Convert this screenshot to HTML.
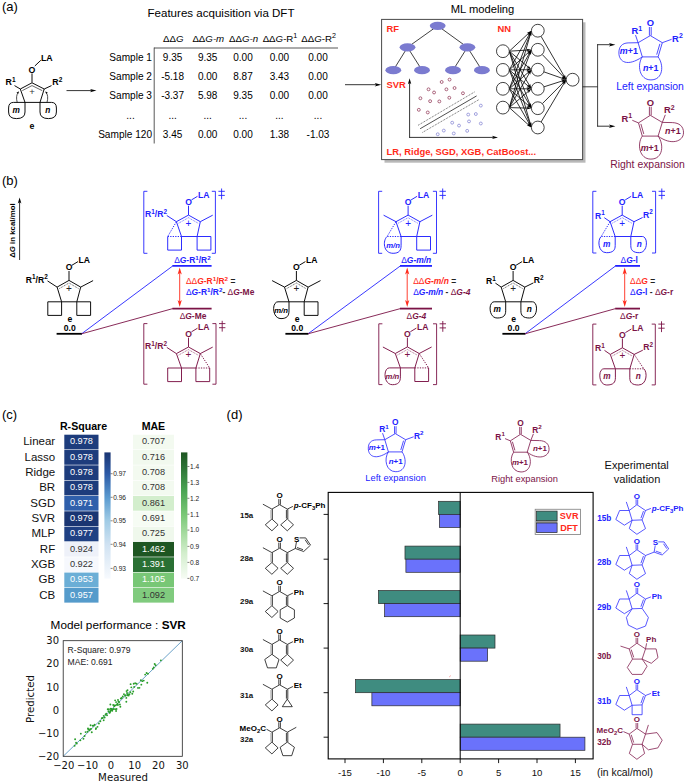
<!DOCTYPE html>
<html><head><meta charset="utf-8"><title>Figure</title>
<style>html,body{margin:0;padding:0;background:#fff}svg{display:block}text{white-space:pre}</style>
</head><body>
<svg width="685" height="783" viewBox="0 0 685 783">
<rect width="685" height="783" fill="#fff"/>
<text x="2" y="10.8" font-family="Liberation Sans, Arial, sans-serif" font-size="13" fill="#000" font-weight="normal" font-style="normal" text-anchor="start" >(a)</text>
<text x="41" y="61.3" font-family="Liberation Sans, Arial, sans-serif" font-size="8.8" fill="#000" font-weight="bold" font-style="normal" text-anchor="start" >LA</text>
<text x="32" y="72.8" font-family="Liberation Sans, Arial, sans-serif" font-size="8.8" fill="#000" font-weight="bold" font-style="normal" text-anchor="middle" >O</text>
<line x1="34.8" y1="66" x2="40.8" y2="60.3" stroke="#000" stroke-width="0.95" />
<line x1="32" y1="73.4" x2="32" y2="82.6" stroke="#000" stroke-width="0.95" />
<polyline points="25,102.4 20.3,89 32,82.8 44.2,89 40,102.4" fill="none" stroke="#000" stroke-width="0.95" stroke-linejoin="round" />
<line x1="25" y1="102.4" x2="40" y2="102.4" stroke="#000" stroke-width="0.95" />
<polyline points="22.3,90.6 32,85.6 42.2,90.6" fill="none" stroke="#000" stroke-width="0.6" stroke-linejoin="round" />
<text x="32" y="95" font-family="Liberation Sans, Arial, sans-serif" font-size="9.5" fill="#333" font-weight="normal" font-style="normal" text-anchor="middle" >+</text>
<text x="5.6" y="85.3" font-family="Liberation Sans, Arial, sans-serif" font-size="8.8" fill="#000" font-weight="bold" font-style="normal" text-anchor="start" ><tspan>R</tspan><tspan dy="-3.34" font-size="6.51">1</tspan></text>
<text x="52.3" y="85.3" font-family="Liberation Sans, Arial, sans-serif" font-size="8.8" fill="#000" font-weight="bold" font-style="normal" text-anchor="start" ><tspan>R</tspan><tspan dy="-3.34" font-size="6.51">2</tspan></text>
<line x1="14.5" y1="85.6" x2="20.3" y2="89" stroke="#000" stroke-width="0.95" />
<line x1="51.5" y1="85.6" x2="44.2" y2="89" stroke="#000" stroke-width="0.95" />
<path d="M25,102.4 H13.5 Q8.6,102.4 8.6,108 V112 Q8.6,118.6 16.5,118.6 Q25,118.6 25,112 Z" fill="none" stroke="#000" stroke-width="0.95" />
<path d="M40,102.4 H51.5 Q56.4,102.4 56.4,108 V112 Q56.4,118.6 48.5,118.6 Q40,118.6 40,112 Z" fill="none" stroke="#000" stroke-width="0.95" />
<text x="16.3" y="112.8" font-family="Liberation Sans, Arial, sans-serif" font-size="8.3" fill="#000" font-weight="bold" font-style="italic" text-anchor="middle" >m</text>
<text x="47.8" y="112.8" font-family="Liberation Sans, Arial, sans-serif" font-size="8.3" fill="#000" font-weight="bold" font-style="italic" text-anchor="middle" >n</text>
<path d="M17.2,102.4 Q15.5,96 18.3,92.2" fill="none" stroke="#000" stroke-width="0.7" />
<polygon points="18.9,91.2 18.08,94.29 17.61,93.04 16.28,93.03" fill="#000" stroke="#000" stroke-width="0" stroke-linejoin="round" />
<path d="M47,102.4 Q48.8,96 46,92.2" fill="none" stroke="#000" stroke-width="0.7" />
<polygon points="45.4,91.2 48.02,93.03 46.69,93.04 46.22,94.29" fill="#000" stroke="#000" stroke-width="0" stroke-linejoin="round" />
<text x="32" y="129.2" font-family="Liberation Sans, Arial, sans-serif" font-size="8.8" fill="#000" font-weight="bold" font-style="normal" text-anchor="middle" >e</text>
<line x1="66.5" y1="90.6" x2="91.95" y2="90.6" stroke="#000" stroke-width="0.8" />
<polygon points="96.5,90.6 90,92.3 91.62,90.6 90,88.9" fill="#000" stroke="#000" stroke-width="0" stroke-linejoin="round" />
<text x="221" y="17.2" font-family="Liberation Sans, Arial, sans-serif" font-size="11.55" fill="#000" font-weight="normal" font-style="normal" text-anchor="middle" >Features acquisition via DFT</text>
<text x="173.2" y="41.6" font-family="Liberation Sans, Arial, sans-serif" font-size="9.7" fill="#000" font-weight="normal" font-style="normal" text-anchor="middle" ><tspan>ΔΔ</tspan><tspan font-style="italic">G</tspan></text>
<text x="208.3" y="41.6" font-family="Liberation Sans, Arial, sans-serif" font-size="9.7" fill="#000" font-weight="normal" font-style="normal" text-anchor="middle" ><tspan>ΔΔ</tspan><tspan font-style="italic">G-m</tspan></text>
<text x="243.6" y="41.6" font-family="Liberation Sans, Arial, sans-serif" font-size="9.7" fill="#000" font-weight="normal" font-style="normal" text-anchor="middle" ><tspan>ΔΔ</tspan><tspan font-style="italic">G-n</tspan></text>
<text x="280" y="41.6" font-family="Liberation Sans, Arial, sans-serif" font-size="9.7" fill="#000" font-weight="normal" font-style="normal" text-anchor="middle" ><tspan>ΔΔ</tspan><tspan font-style="italic">G</tspan><tspan>-R</tspan><tspan dy="-3.69" font-size="7.18">1</tspan></text>
<text x="318.6" y="41.6" font-family="Liberation Sans, Arial, sans-serif" font-size="9.7" fill="#000" font-weight="normal" font-style="normal" text-anchor="middle" ><tspan>ΔΔ</tspan><tspan font-style="italic">G</tspan><tspan>-R</tspan><tspan dy="-3.69" font-size="7.18">2</tspan></text>
<line x1="154" y1="48" x2="338" y2="48" stroke="#444" stroke-width="0.9" />
<line x1="154.2" y1="47.6" x2="154.2" y2="143.5" stroke="#444" stroke-width="0.9" />
<text x="152" y="60.6" font-family="Liberation Sans, Arial, sans-serif" font-size="10.1" fill="#000" font-weight="normal" font-style="normal" text-anchor="end" >Sample 1</text>
<text x="172.6" y="60.6" font-family="Liberation Sans, Arial, sans-serif" font-size="10" fill="#000" font-weight="normal" font-style="normal" text-anchor="middle" >9.35</text>
<text x="207.7" y="60.6" font-family="Liberation Sans, Arial, sans-serif" font-size="10" fill="#000" font-weight="normal" font-style="normal" text-anchor="middle" >9.35</text>
<text x="243" y="60.6" font-family="Liberation Sans, Arial, sans-serif" font-size="10" fill="#000" font-weight="normal" font-style="normal" text-anchor="middle" >0.00</text>
<text x="279.4" y="60.6" font-family="Liberation Sans, Arial, sans-serif" font-size="10" fill="#000" font-weight="normal" font-style="normal" text-anchor="middle" >0.00</text>
<text x="318" y="60.6" font-family="Liberation Sans, Arial, sans-serif" font-size="10" fill="#000" font-weight="normal" font-style="normal" text-anchor="middle" >0.00</text>
<text x="152" y="80.2" font-family="Liberation Sans, Arial, sans-serif" font-size="10.1" fill="#000" font-weight="normal" font-style="normal" text-anchor="end" >Sample 2</text>
<text x="172.6" y="80.2" font-family="Liberation Sans, Arial, sans-serif" font-size="10" fill="#000" font-weight="normal" font-style="normal" text-anchor="middle" >-5.18</text>
<text x="207.7" y="80.2" font-family="Liberation Sans, Arial, sans-serif" font-size="10" fill="#000" font-weight="normal" font-style="normal" text-anchor="middle" >0.00</text>
<text x="243" y="80.2" font-family="Liberation Sans, Arial, sans-serif" font-size="10" fill="#000" font-weight="normal" font-style="normal" text-anchor="middle" >8.87</text>
<text x="279.4" y="80.2" font-family="Liberation Sans, Arial, sans-serif" font-size="10" fill="#000" font-weight="normal" font-style="normal" text-anchor="middle" >3.43</text>
<text x="318" y="80.2" font-family="Liberation Sans, Arial, sans-serif" font-size="10" fill="#000" font-weight="normal" font-style="normal" text-anchor="middle" >0.00</text>
<text x="152" y="98.8" font-family="Liberation Sans, Arial, sans-serif" font-size="10.1" fill="#000" font-weight="normal" font-style="normal" text-anchor="end" >Sample 3</text>
<text x="172.6" y="98.8" font-family="Liberation Sans, Arial, sans-serif" font-size="10" fill="#000" font-weight="normal" font-style="normal" text-anchor="middle" >-3.37</text>
<text x="207.7" y="98.8" font-family="Liberation Sans, Arial, sans-serif" font-size="10" fill="#000" font-weight="normal" font-style="normal" text-anchor="middle" >5.98</text>
<text x="243" y="98.8" font-family="Liberation Sans, Arial, sans-serif" font-size="10" fill="#000" font-weight="normal" font-style="normal" text-anchor="middle" >9.35</text>
<text x="279.4" y="98.8" font-family="Liberation Sans, Arial, sans-serif" font-size="10" fill="#000" font-weight="normal" font-style="normal" text-anchor="middle" >0.00</text>
<text x="318" y="98.8" font-family="Liberation Sans, Arial, sans-serif" font-size="10" fill="#000" font-weight="normal" font-style="normal" text-anchor="middle" >0.00</text>
<text x="130.5" y="118.6" font-family="Liberation Sans, Arial, sans-serif" font-size="10.1" fill="#000" font-weight="normal" font-style="normal" text-anchor="middle" >...</text>
<text x="172.6" y="118.6" font-family="Liberation Sans, Arial, sans-serif" font-size="10" fill="#000" font-weight="normal" font-style="normal" text-anchor="middle" >...</text>
<text x="207.7" y="118.6" font-family="Liberation Sans, Arial, sans-serif" font-size="10" fill="#000" font-weight="normal" font-style="normal" text-anchor="middle" >...</text>
<text x="243" y="118.6" font-family="Liberation Sans, Arial, sans-serif" font-size="10" fill="#000" font-weight="normal" font-style="normal" text-anchor="middle" >...</text>
<text x="279.4" y="118.6" font-family="Liberation Sans, Arial, sans-serif" font-size="10" fill="#000" font-weight="normal" font-style="normal" text-anchor="middle" >...</text>
<text x="318" y="118.6" font-family="Liberation Sans, Arial, sans-serif" font-size="10" fill="#000" font-weight="normal" font-style="normal" text-anchor="middle" >...</text>
<text x="152" y="137.6" font-family="Liberation Sans, Arial, sans-serif" font-size="10.1" fill="#000" font-weight="normal" font-style="normal" text-anchor="end" >Sample 120</text>
<text x="172.6" y="137.6" font-family="Liberation Sans, Arial, sans-serif" font-size="10" fill="#000" font-weight="normal" font-style="normal" text-anchor="middle" >3.45</text>
<text x="207.7" y="137.6" font-family="Liberation Sans, Arial, sans-serif" font-size="10" fill="#000" font-weight="normal" font-style="normal" text-anchor="middle" >0.00</text>
<text x="243" y="137.6" font-family="Liberation Sans, Arial, sans-serif" font-size="10" fill="#000" font-weight="normal" font-style="normal" text-anchor="middle" >0.00</text>
<text x="279.4" y="137.6" font-family="Liberation Sans, Arial, sans-serif" font-size="10" fill="#000" font-weight="normal" font-style="normal" text-anchor="middle" >1.38</text>
<text x="318" y="137.6" font-family="Liberation Sans, Arial, sans-serif" font-size="10" fill="#000" font-weight="normal" font-style="normal" text-anchor="middle" >-1.03</text>
<text x="482.5" y="13.3" font-family="Liberation Sans, Arial, sans-serif" font-size="11.2" fill="#000" font-weight="normal" font-style="normal" text-anchor="middle" >ML modeling</text>
<rect x="384.5" y="22.3" width="201" height="140.4" fill="#b9b9b9" stroke="none" stroke-width="1" />
<rect x="381.6" y="19.4" width="201" height="140.2" fill="#fff" stroke="#4a4a4a" stroke-width="1" />
<line x1="345" y1="84.7" x2="376.65" y2="84.7" stroke="#000" stroke-width="0.8" />
<polygon points="381.2,84.7 374.7,86.4 376.32,84.7 374.7,83" fill="#000" stroke="#000" stroke-width="0" stroke-linejoin="round" />
<text x="386.6" y="31.6" font-family="Liberation Sans, Arial, sans-serif" font-size="9.4" fill="#ff2a1a" font-weight="bold" font-style="normal" text-anchor="start" >RF</text>
<text x="497.4" y="31.6" font-family="Liberation Sans, Arial, sans-serif" font-size="9.4" fill="#ff2a1a" font-weight="bold" font-style="normal" text-anchor="start" >NN</text>
<text x="386.6" y="88.2" font-family="Liberation Sans, Arial, sans-serif" font-size="9.4" fill="#ff2a1a" font-weight="bold" font-style="normal" text-anchor="start" >SVR</text>
<text x="386.6" y="154.6" font-family="Liberation Sans, Arial, sans-serif" font-size="9.4" fill="#ff2a1a" font-weight="bold" font-style="normal" text-anchor="start" >LR, Ridge, SGD, XGB, CatBoost...</text>
<line x1="437.7" y1="25.8" x2="407.5" y2="47.3" stroke="#111" stroke-width="0.8" />
<line x1="437.7" y1="25.8" x2="467.4" y2="47.3" stroke="#111" stroke-width="0.8" />
<line x1="407.5" y1="47.3" x2="393.3" y2="70.2" stroke="#111" stroke-width="0.8" />
<line x1="407.5" y1="47.3" x2="422" y2="70.2" stroke="#111" stroke-width="0.8" />
<line x1="467.4" y1="47.3" x2="453" y2="70.2" stroke="#111" stroke-width="0.8" />
<line x1="467.4" y1="47.3" x2="481.9" y2="70.2" stroke="#111" stroke-width="0.8" />
<ellipse cx="437.7" cy="25.8" rx="7.9" ry="4.1" fill="#7b7bd0" stroke="none" stroke-width="1"/>
<ellipse cx="407.5" cy="47.3" rx="7.9" ry="4.1" fill="#7b7bd0" stroke="none" stroke-width="1"/>
<ellipse cx="467.4" cy="47.3" rx="7.9" ry="4.1" fill="#7b7bd0" stroke="none" stroke-width="1"/>
<ellipse cx="393.3" cy="70.2" rx="7.9" ry="4.1" fill="#7b7bd0" stroke="none" stroke-width="1"/>
<ellipse cx="422" cy="70.2" rx="7.9" ry="4.1" fill="#7b7bd0" stroke="none" stroke-width="1"/>
<ellipse cx="453" cy="70.2" rx="7.9" ry="4.1" fill="#7b7bd0" stroke="none" stroke-width="1"/>
<ellipse cx="481.9" cy="70.2" rx="7.9" ry="4.1" fill="#7b7bd0" stroke="none" stroke-width="1"/>
<line x1="409.6" y1="137.6" x2="409.6" y2="82.4" stroke="#000" stroke-width="0.8" />
<polygon points="409.6,78.2 411.3,84.2 409.6,82.7 407.9,84.2" fill="#000" stroke="#000" stroke-width="0" stroke-linejoin="round" />
<line x1="409.2" y1="137.4" x2="493.8" y2="137.4" stroke="#000" stroke-width="0.8" />
<polygon points="498,137.4 492,139.1 493.5,137.4 492,135.7" fill="#000" stroke="#000" stroke-width="0" stroke-linejoin="round" />
<circle cx="441.68" cy="81.98" r="1.45" fill="none" stroke="#8a2a4a" stroke-width="0.7"/>
<circle cx="449.56" cy="79.61" r="1.45" fill="none" stroke="#8a2a4a" stroke-width="0.7"/>
<circle cx="428.54" cy="89.33" r="1.45" fill="none" stroke="#8a2a4a" stroke-width="0.7"/>
<circle cx="434.06" cy="92.49" r="1.45" fill="none" stroke="#8a2a4a" stroke-width="0.7"/>
<circle cx="446.41" cy="89.33" r="1.45" fill="none" stroke="#8a2a4a" stroke-width="0.7"/>
<circle cx="454.56" cy="88.02" r="1.45" fill="none" stroke="#8a2a4a" stroke-width="0.7"/>
<circle cx="462.96" cy="93.27" r="1.45" fill="none" stroke="#8a2a4a" stroke-width="0.7"/>
<circle cx="420.4" cy="98.27" r="1.45" fill="none" stroke="#8a2a4a" stroke-width="0.7"/>
<circle cx="430.12" cy="101.16" r="1.45" fill="none" stroke="#8a2a4a" stroke-width="0.7"/>
<circle cx="439.32" cy="101.42" r="1.45" fill="none" stroke="#8a2a4a" stroke-width="0.7"/>
<circle cx="449.3" cy="97.74" r="1.45" fill="none" stroke="#8a2a4a" stroke-width="0.7"/>
<circle cx="418.82" cy="109.83" r="1.45" fill="none" stroke="#8a2a4a" stroke-width="0.7"/>
<circle cx="427.76" cy="112.45" r="1.45" fill="none" stroke="#8a2a4a" stroke-width="0.7"/>
<circle cx="480.83" cy="105.62" r="1.45" fill="none" stroke="#7b7bd0" stroke-width="0.7"/>
<circle cx="468.22" cy="114.56" r="1.45" fill="none" stroke="#7b7bd0" stroke-width="0.7"/>
<circle cx="475.84" cy="114.03" r="1.45" fill="none" stroke="#7b7bd0" stroke-width="0.7"/>
<circle cx="452.19" cy="122.7" r="1.45" fill="none" stroke="#7b7bd0" stroke-width="0.7"/>
<circle cx="459.02" cy="125.59" r="1.45" fill="none" stroke="#7b7bd0" stroke-width="0.7"/>
<circle cx="469.01" cy="121.39" r="1.45" fill="none" stroke="#7b7bd0" stroke-width="0.7"/>
<circle cx="480.83" cy="123.49" r="1.45" fill="none" stroke="#7b7bd0" stroke-width="0.7"/>
<circle cx="443.78" cy="130.58" r="1.45" fill="none" stroke="#7b7bd0" stroke-width="0.7"/>
<circle cx="437.74" cy="134.26" r="1.45" fill="none" stroke="#7b7bd0" stroke-width="0.7"/>
<circle cx="453.77" cy="133.47" r="1.45" fill="none" stroke="#7b7bd0" stroke-width="0.7"/>
<circle cx="467.17" cy="130.85" r="1.45" fill="none" stroke="#7b7bd0" stroke-width="0.7"/>
<line x1="420.14" y1="128.74" x2="476.63" y2="95.9" stroke="#222" stroke-width="0.8" />
<line x1="418.03" y1="125.33" x2="474.52" y2="91.96" stroke="#222" stroke-width="0.7" stroke-dasharray="0.9 0.9"/>
<line x1="422.5" y1="132.42" x2="478.99" y2="99.58" stroke="#222" stroke-width="0.7" stroke-dasharray="0.9 0.9"/>
<line x1="509.3" y1="51.2" x2="528.83" y2="33.08" stroke="#000" stroke-width="0.8" />
<polygon points="531.4,30.7 528.72,35.16 528.65,33.25 526.75,33.04" fill="#000" stroke="#000" stroke-width="0" stroke-linejoin="round" />
<line x1="509.3" y1="51.2" x2="527.91" y2="50.02" stroke="#000" stroke-width="0.8" />
<polygon points="531.4,49.8 526.5,51.56 527.66,50.04 526.32,48.67" fill="#000" stroke="#000" stroke-width="0" stroke-linejoin="round" />
<line x1="509.3" y1="51.2" x2="528.72" y2="67.45" stroke="#000" stroke-width="0.8" />
<polygon points="531.4,69.7 526.64,67.6 528.52,67.29 528.5,65.38" fill="#000" stroke="#000" stroke-width="0" stroke-linejoin="round" />
<line x1="509.3" y1="51.2" x2="529.63" y2="85.78" stroke="#000" stroke-width="0.8" />
<polygon points="531.4,88.8 527.62,85.22 529.5,85.57 530.12,83.75" fill="#000" stroke="#000" stroke-width="0" stroke-linejoin="round" />
<line x1="509.3" y1="51.2" x2="530.13" y2="104.94" stroke="#000" stroke-width="0.8" />
<polygon points="531.4,108.2 528.24,104.06 530.04,104.7 530.94,103.01" fill="#000" stroke="#000" stroke-width="0" stroke-linejoin="round" />
<line x1="509.3" y1="51.2" x2="530.43" y2="124.14" stroke="#000" stroke-width="0.8" />
<polygon points="531.4,127.5 528.62,123.1 530.36,123.9 531.4,122.29" fill="#000" stroke="#000" stroke-width="0" stroke-linejoin="round" />
<line x1="509.3" y1="69.9" x2="529.68" y2="33.75" stroke="#000" stroke-width="0.8" />
<polygon points="531.4,30.7 530.21,35.77 529.56,33.97 527.68,34.34" fill="#000" stroke="#000" stroke-width="0" stroke-linejoin="round" />
<line x1="509.3" y1="69.9" x2="528.81" y2="52.15" stroke="#000" stroke-width="0.8" />
<polygon points="531.4,49.8 528.68,54.24 528.63,52.32 526.73,52.09" fill="#000" stroke="#000" stroke-width="0" stroke-linejoin="round" />
<line x1="509.3" y1="69.9" x2="527.9" y2="69.73" stroke="#000" stroke-width="0.8" />
<polygon points="531.4,69.7 526.41,71.2 527.65,69.73 526.39,68.3" fill="#000" stroke="#000" stroke-width="0" stroke-linejoin="round" />
<line x1="509.3" y1="69.9" x2="528.74" y2="86.53" stroke="#000" stroke-width="0.8" />
<polygon points="531.4,88.8 526.66,86.65 528.55,86.36 528.54,84.45" fill="#000" stroke="#000" stroke-width="0" stroke-linejoin="round" />
<line x1="509.3" y1="69.9" x2="529.65" y2="105.17" stroke="#000" stroke-width="0.8" />
<polygon points="531.4,108.2 527.65,104.59 529.53,104.95 530.16,103.14" fill="#000" stroke="#000" stroke-width="0" stroke-linejoin="round" />
<line x1="509.3" y1="69.9" x2="530.15" y2="124.23" stroke="#000" stroke-width="0.8" />
<polygon points="531.4,127.5 528.26,123.35 530.06,124 530.96,122.31" fill="#000" stroke="#000" stroke-width="0" stroke-linejoin="round" />
<line x1="509.3" y1="88.8" x2="530.16" y2="33.97" stroke="#000" stroke-width="0.8" />
<polygon points="531.4,30.7 530.98,35.89 530.07,34.2 528.27,34.86" fill="#000" stroke="#000" stroke-width="0" stroke-linejoin="round" />
<line x1="509.3" y1="88.8" x2="529.67" y2="52.85" stroke="#000" stroke-width="0.8" />
<polygon points="531.4,49.8 530.2,54.86 529.55,53.06 527.67,53.44" fill="#000" stroke="#000" stroke-width="0" stroke-linejoin="round" />
<line x1="509.3" y1="88.8" x2="528.75" y2="71.99" stroke="#000" stroke-width="0.8" />
<polygon points="531.4,69.7 528.57,74.07 528.56,72.15 526.67,71.87" fill="#000" stroke="#000" stroke-width="0" stroke-linejoin="round" />
<line x1="509.3" y1="88.8" x2="527.9" y2="88.8" stroke="#000" stroke-width="0.8" />
<polygon points="531.4,88.8 526.4,90.25 527.65,88.8 526.4,87.35" fill="#000" stroke="#000" stroke-width="0" stroke-linejoin="round" />
<line x1="509.3" y1="88.8" x2="528.77" y2="105.89" stroke="#000" stroke-width="0.8" />
<polygon points="531.4,108.2 526.69,105.99 528.58,105.73 528.6,103.81" fill="#000" stroke="#000" stroke-width="0" stroke-linejoin="round" />
<line x1="509.3" y1="88.8" x2="529.66" y2="124.46" stroke="#000" stroke-width="0.8" />
<polygon points="531.4,127.5 527.66,123.88 529.54,124.24 530.18,122.44" fill="#000" stroke="#000" stroke-width="0" stroke-linejoin="round" />
<line x1="509.3" y1="107.6" x2="530.43" y2="34.06" stroke="#000" stroke-width="0.8" />
<polygon points="531.4,30.7 531.41,35.91 530.36,34.3 528.63,35.1" fill="#000" stroke="#000" stroke-width="0" stroke-linejoin="round" />
<line x1="509.3" y1="107.6" x2="530.15" y2="53.07" stroke="#000" stroke-width="0.8" />
<polygon points="531.4,49.8 530.97,54.99 530.06,53.3 528.26,53.95" fill="#000" stroke="#000" stroke-width="0" stroke-linejoin="round" />
<line x1="509.3" y1="107.6" x2="529.64" y2="72.72" stroke="#000" stroke-width="0.8" />
<polygon points="531.4,69.7 530.13,74.75 529.51,72.94 527.63,73.29" fill="#000" stroke="#000" stroke-width="0" stroke-linejoin="round" />
<line x1="509.3" y1="107.6" x2="528.73" y2="91.07" stroke="#000" stroke-width="0.8" />
<polygon points="531.4,88.8 528.53,93.14 528.54,91.23 526.65,90.94" fill="#000" stroke="#000" stroke-width="0" stroke-linejoin="round" />
<line x1="509.3" y1="107.6" x2="527.9" y2="108.11" stroke="#000" stroke-width="0.8" />
<polygon points="531.4,108.2 526.36,109.51 527.65,108.1 526.44,106.61" fill="#000" stroke="#000" stroke-width="0" stroke-linejoin="round" />
<line x1="509.3" y1="107.6" x2="528.8" y2="125.16" stroke="#000" stroke-width="0.8" />
<polygon points="531.4,127.5 526.71,125.23 528.61,124.99 528.65,123.08" fill="#000" stroke="#000" stroke-width="0" stroke-linejoin="round" />
<line x1="541.01" y1="36.24" x2="564.44" y2="76.67" stroke="#000" stroke-width="0.8" />
<polygon points="566.2,79.7 562.44,76.1 564.32,76.46 564.95,74.65" fill="#000" stroke="#000" stroke-width="0" stroke-linejoin="round" />
<line x1="542.21" y1="54.44" x2="563.79" y2="77.16" stroke="#000" stroke-width="0.8" />
<polygon points="566.2,79.7 561.71,77.07 563.62,76.98 563.81,75.08" fill="#000" stroke="#000" stroke-width="0" stroke-linejoin="round" />
<line x1="543.84" y1="71.83" x2="562.9" y2="78.54" stroke="#000" stroke-width="0.8" />
<polygon points="566.2,79.7 561,79.41 562.66,78.45 561.97,76.67" fill="#000" stroke="#000" stroke-width="0" stroke-linejoin="round" />
<line x1="543.89" y1="86.85" x2="562.87" y2="80.77" stroke="#000" stroke-width="0.8" />
<polygon points="566.2,79.7 561.88,82.61 562.63,80.84 561,79.84" fill="#000" stroke="#000" stroke-width="0" stroke-linejoin="round" />
<line x1="542.32" y1="103.67" x2="563.73" y2="82.18" stroke="#000" stroke-width="0.8" />
<polygon points="566.2,79.7 563.7,84.27 563.55,82.36 561.64,82.22" fill="#000" stroke="#000" stroke-width="0" stroke-linejoin="round" />
<line x1="541.07" y1="122" x2="564.41" y2="82.71" stroke="#000" stroke-width="0.8" />
<polygon points="566.2,79.7 564.89,84.74 564.28,82.92 562.4,83.26" fill="#000" stroke="#000" stroke-width="0" stroke-linejoin="round" />
<circle cx="502.9" cy="51.2" r="6.4" fill="#fff" stroke="#111" stroke-width="0.8"/>
<circle cx="502.9" cy="69.9" r="6.4" fill="#fff" stroke="#111" stroke-width="0.8"/>
<circle cx="502.9" cy="88.8" r="6.4" fill="#fff" stroke="#111" stroke-width="0.8"/>
<circle cx="502.9" cy="107.6" r="6.4" fill="#fff" stroke="#111" stroke-width="0.8"/>
<circle cx="537.8" cy="30.7" r="6.4" fill="#fff" stroke="#111" stroke-width="0.8"/>
<circle cx="537.8" cy="49.8" r="6.4" fill="#fff" stroke="#111" stroke-width="0.8"/>
<circle cx="537.8" cy="69.7" r="6.4" fill="#fff" stroke="#111" stroke-width="0.8"/>
<circle cx="537.8" cy="88.8" r="6.4" fill="#fff" stroke="#111" stroke-width="0.8"/>
<circle cx="537.8" cy="108.2" r="6.4" fill="#fff" stroke="#111" stroke-width="0.8"/>
<circle cx="537.8" cy="127.5" r="6.4" fill="#fff" stroke="#111" stroke-width="0.8"/>
<circle cx="572.6" cy="79.7" r="6.4" fill="#fff" stroke="#111" stroke-width="0.8"/>
<line x1="582.6" y1="86.8" x2="597.6" y2="86.8" stroke="#111" stroke-width="0.8" />
<line x1="597.6" y1="44.4" x2="597.6" y2="126.5" stroke="#111" stroke-width="0.8" />
<line x1="597.2" y1="44.7" x2="610.85" y2="44.7" stroke="#000" stroke-width="0.8" />
<polygon points="615.4,44.7 608.9,46.4 610.52,44.7 608.9,43" fill="#000" stroke="#000" stroke-width="0" stroke-linejoin="round" />
<line x1="597.2" y1="126.2" x2="610.85" y2="126.2" stroke="#000" stroke-width="0.8" />
<polygon points="615.4,126.2 608.9,127.9 610.52,126.2 608.9,124.5" fill="#000" stroke="#000" stroke-width="0" stroke-linejoin="round" />
<polyline points="642.3,56.9 638.1,42.7 650.3,35.6 662.3,42.7 658.1,56.9 642.3,56.9" fill="none" stroke="#2222ff" stroke-width="0.8" stroke-linejoin="round" />
<line x1="659.88" y1="43.84" x2="656.69" y2="54.63" stroke="#2222ff" stroke-width="0.8" />
<line x1="649.4" y1="35.6" x2="649.4" y2="27" stroke="#2222ff" stroke-width="0.8" />
<line x1="651.2" y1="35.6" x2="651.2" y2="27" stroke="#2222ff" stroke-width="0.8" />
<text x="650.3" y="26" font-family="Liberation Sans, Arial, sans-serif" font-size="9.4" fill="#2222ff" font-weight="bold" font-style="normal" text-anchor="middle" >O</text>
<line x1="638.1" y1="42.7" x2="635.5" y2="35.1" stroke="#2222ff" stroke-width="0.8" />
<text x="631.5" y="34.1" font-family="Liberation Sans, Arial, sans-serif" font-size="9.4" fill="#2222ff" font-weight="bold" font-style="normal" text-anchor="start" ><tspan>R</tspan><tspan dy="-3.57" font-size="6.96">1</tspan></text>
<line x1="662.3" y1="42.7" x2="671.6" y2="39.3" stroke="#2222ff" stroke-width="0.8" />
<text x="672.1" y="41.5" font-family="Liberation Sans, Arial, sans-serif" font-size="9.4" fill="#2222ff" font-weight="bold" font-style="normal" text-anchor="start" ><tspan>R</tspan><tspan dy="-3.57" font-size="6.96">2</tspan></text>
<path d="M638.1,42.7 L628.1,42.9 C622.1,43.1 618.7,46.7 618.9,53.2 C619.1,61.7 627.1,67.2 642.3,56.9" fill="none" stroke="#2222ff" stroke-width="0.8" />
<text x="628.9" y="54.2" font-family="Liberation Sans, Arial, sans-serif" font-size="8.93" fill="#2222ff" font-weight="bold" font-style="normal" text-anchor="middle" ><tspan font-style="italic">m</tspan><tspan>+1</tspan></text>
<path d="M642.3,56.9 C636.8,64.9 639.3,79.9 650.9,79.9 C663.3,79.9 664.1,64.9 658.1,56.9" fill="none" stroke="#2222ff" stroke-width="0.8" />
<text x="650.7" y="71.1" font-family="Liberation Sans, Arial, sans-serif" font-size="8.93" fill="#2222ff" font-weight="bold" font-style="normal" text-anchor="middle" ><tspan font-style="italic">n</tspan><tspan>+1</tspan></text>
<text x="650" y="89.8" font-family="Liberation Sans, Arial, sans-serif" font-size="10.4" fill="#2222ff" font-weight="normal" font-style="normal" text-anchor="middle" >Left expansion</text>
<polyline points="642.3,136.1 638.5,122.9 650.3,115.3 662.3,122.4 658.1,136.1 642.3,136.1" fill="none" stroke="#7b1346" stroke-width="0.8" stroke-linejoin="round" />
<line x1="640.88" y1="123.93" x2="643.77" y2="133.96" stroke="#7b1346" stroke-width="0.8" />
<line x1="649.4" y1="115.3" x2="649.4" y2="106.7" stroke="#7b1346" stroke-width="0.8" />
<line x1="651.2" y1="115.3" x2="651.2" y2="106.7" stroke="#7b1346" stroke-width="0.8" />
<text x="650.3" y="105.7" font-family="Liberation Sans, Arial, sans-serif" font-size="9.4" fill="#7b1346" font-weight="bold" font-style="normal" text-anchor="middle" >O</text>
<line x1="638.5" y1="122.9" x2="632.3" y2="120.3" stroke="#7b1346" stroke-width="0.8" />
<text x="632.1" y="121.5" font-family="Liberation Sans, Arial, sans-serif" font-size="9.4" fill="#7b1346" font-weight="bold" font-style="normal" text-anchor="end" ><tspan>R</tspan><tspan dy="-3.57" font-size="6.96">1</tspan></text>
<line x1="662.3" y1="122.4" x2="665.3" y2="114.8" stroke="#7b1346" stroke-width="0.8" />
<text x="663.9" y="113.4" font-family="Liberation Sans, Arial, sans-serif" font-size="9.4" fill="#7b1346" font-weight="bold" font-style="normal" text-anchor="start" ><tspan>R</tspan><tspan dy="-3.57" font-size="6.96">2</tspan></text>
<path d="M662.3,122.4 L672.3,122.6 C679.3,122.8 683.7,126.4 683.5,132.9 C683.3,141.4 671.3,145.9 658.1,136.1" fill="none" stroke="#7b1346" stroke-width="0.8" />
<text x="672.9" y="134.2" font-family="Liberation Sans, Arial, sans-serif" font-size="8.93" fill="#7b1346" font-weight="bold" font-style="normal" text-anchor="middle" ><tspan font-style="italic">n</tspan><tspan>+1</tspan></text>
<path d="M642.3,136.1 C636.8,144.1 639.3,159.1 650.9,159.1 C663.3,159.1 664.1,144.1 658.1,136.1" fill="none" stroke="#7b1346" stroke-width="0.8" />
<text x="649.7" y="150.7" font-family="Liberation Sans, Arial, sans-serif" font-size="8.93" fill="#7b1346" font-weight="bold" font-style="normal" text-anchor="middle" ><tspan font-style="italic">m</tspan><tspan>+1</tspan></text>
<text x="647.5" y="167.6" font-family="Liberation Sans, Arial, sans-serif" font-size="10.4" fill="#7b1346" font-weight="normal" font-style="normal" text-anchor="middle" >Right expansion</text>
<text x="2" y="184.6" font-family="Liberation Sans, Arial, sans-serif" font-size="13" fill="#000" font-weight="normal" font-style="normal" text-anchor="start" >(b)</text>
<line x1="19.6" y1="260" x2="19.6" y2="201.6" stroke="#000" stroke-width="0.8" />
<polygon points="19.6,197.4 21.4,203.4 19.6,201.9 17.8,203.4" fill="#000" stroke="#000" stroke-width="0" stroke-linejoin="round" />
<text x="0" y="0" font-family="Liberation Sans, Arial, sans-serif" font-size="7.85" fill="#000" font-weight="bold" font-style="normal" text-anchor="middle" transform="translate(15.3,230.6) rotate(-90)"><tspan>Δ</tspan><tspan font-style="italic">G</tspan><tspan> in kcal/mol</tspan></text>
<polyline points="61.6,301.8 57.1,287.1 69,280.4 80.7,287.1 76.8,301.8" fill="none" stroke="#000" stroke-width="0.95" stroke-linejoin="round" />
<line x1="61.6" y1="301.8" x2="76.8" y2="301.8" stroke="#000" stroke-width="0.95" />
<polyline points="59.3,288.6 69,283 78.5,288.6" fill="none" stroke="#000" stroke-width="0.6" stroke-linejoin="round" stroke-dasharray="1 0.8"/>
<text x="69" y="291.8" font-family="Liberation Sans, Arial, sans-serif" font-size="10" fill="#222" font-weight="normal" font-style="normal" text-anchor="middle" >+</text>
<line x1="69" y1="280.4" x2="69" y2="271" stroke="#000" stroke-width="0.95" />
<text x="69" y="270.2" font-family="Liberation Sans, Arial, sans-serif" font-size="8.65" fill="#000" font-weight="bold" font-style="normal" text-anchor="middle" >O</text>
<line x1="72" y1="265.2" x2="78" y2="261.6" stroke="#000" stroke-width="0.95" />
<text x="78.6" y="263.4" font-family="Liberation Sans, Arial, sans-serif" font-size="8.65" fill="#000" font-weight="bold" font-style="normal" text-anchor="start" >LA</text>
<line x1="57.1" y1="287.1" x2="47.5" y2="280.9" stroke="#000" stroke-width="0.95" />
<text x="47.7" y="282.5" font-family="Liberation Sans, Arial, sans-serif" font-size="8.65" fill="#000" font-weight="bold" font-style="normal" text-anchor="end" ><tspan>R</tspan><tspan dy="-3.29" font-size="6.4">1</tspan><tspan dy="3.29">/R</tspan><tspan dy="-3.29" font-size="6.4">2</tspan></text>
<line x1="80.7" y1="287.1" x2="93.1" y2="280.6" stroke="#000" stroke-width="0.95" />
<polygon points="61.6,301.8 47.8,301.8 47.8,315.4 61.6,315.4" fill="none" stroke="#000" stroke-width="0.95" stroke-linejoin="round" />
<polygon points="76.8,301.8 90.6,301.8 90.6,315.4 76.8,315.4" fill="none" stroke="#000" stroke-width="0.95" stroke-linejoin="round" />
<text x="69.8" y="322" font-family="Liberation Sans, Arial, sans-serif" font-size="8.65" fill="#000" font-weight="bold" font-style="normal" text-anchor="middle" >e</text>
<text x="69.8" y="331.2" font-family="Liberation Sans, Arial, sans-serif" font-size="8.65" fill="#000" font-weight="bold" font-style="normal" text-anchor="middle" >0.0</text>
<line x1="56.6" y1="333.8" x2="82" y2="333.8" stroke="#000" stroke-width="1.8" />
<line x1="81.6" y1="333.8" x2="172.8" y2="265.9" stroke="#2222ff" stroke-width="0.9" />
<line x1="172.4" y1="265.9" x2="211.6" y2="265.9" stroke="#2222ff" stroke-width="1.8" />
<line x1="81.6" y1="333.8" x2="172.8" y2="308.6" stroke="#7b1346" stroke-width="0.9" />
<line x1="172.4" y1="308.6" x2="211.6" y2="308.6" stroke="#7b1346" stroke-width="1.8" />
<polyline points="181.5,236.5 176.4,221.7 188.5,215.1 200.3,221.7 197.1,236.5" fill="none" stroke="#2222ff" stroke-width="0.95" stroke-linejoin="round" />
<line x1="181.5" y1="236.5" x2="197.1" y2="236.5" stroke="#2222ff" stroke-width="0.95" />
<polyline points="178.6,223.2 188.5,217.7 198.1,223.2" fill="none" stroke="#2222ff" stroke-width="0.6" stroke-linejoin="round" stroke-dasharray="1 0.8"/>
<text x="188.5" y="226.5" font-family="Liberation Sans, Arial, sans-serif" font-size="10" fill="#2222ff" font-weight="normal" font-style="normal" text-anchor="middle" >+</text>
<line x1="188.5" y1="215.1" x2="188.5" y2="205.7" stroke="#2222ff" stroke-width="0.95" />
<text x="188.5" y="204.9" font-family="Liberation Sans, Arial, sans-serif" font-size="8.65" fill="#2222ff" font-weight="bold" font-style="normal" text-anchor="middle" >O</text>
<line x1="191.5" y1="199.9" x2="197.5" y2="196.3" stroke="#2222ff" stroke-width="0.95" />
<text x="198.1" y="198.1" font-family="Liberation Sans, Arial, sans-serif" font-size="8.65" fill="#2222ff" font-weight="bold" font-style="normal" text-anchor="start" >LA</text>
<line x1="176.4" y1="221.7" x2="166.8" y2="215.5" stroke="#2222ff" stroke-width="0.95" />
<text x="167" y="217.1" font-family="Liberation Sans, Arial, sans-serif" font-size="8.65" fill="#2222ff" font-weight="bold" font-style="normal" text-anchor="end" ><tspan>R</tspan><tspan dy="-3.29" font-size="6.4">1</tspan><tspan dy="3.29">/R</tspan><tspan dy="-3.29" font-size="6.4">2</tspan></text>
<line x1="200.3" y1="221.7" x2="212.7" y2="215.2" stroke="#2222ff" stroke-width="0.95" />
<line x1="181.5" y1="236.5" x2="167.7" y2="236.5" stroke="#2222ff" stroke-width="0.95" stroke-dasharray="1.3 1.2"/>
<polyline points="167.7,236.5 167.7,250.1 181.5,250.1 181.5,236.5" fill="none" stroke="#2222ff" stroke-width="0.95" stroke-linejoin="round" />
<line x1="176.4" y1="221.7" x2="167.7" y2="236.5" stroke="#2222ff" stroke-width="0.95" stroke-dasharray="1.3 1.2"/>
<polygon points="197.1,236.5 210.9,236.5 210.9,250.1 197.1,250.1" fill="none" stroke="#2222ff" stroke-width="0.95" stroke-linejoin="round" />
<polyline points="147.4,191.3 143.8,191.3 143.8,253.3 147.4,253.3" fill="none" stroke="#2222ff" stroke-width="0.9" stroke-linejoin="round" />
<polyline points="211.8,191.3 215.4,191.3 215.4,253.3 211.8,253.3" fill="none" stroke="#2222ff" stroke-width="0.9" stroke-linejoin="round" />
<line x1="221.6" y1="188.5" x2="221.6" y2="199.3" stroke="#2222ff" stroke-width="0.9" />
<line x1="218.4" y1="191.3" x2="224.8" y2="191.3" stroke="#2222ff" stroke-width="0.9" />
<line x1="218.4" y1="195.4" x2="224.8" y2="195.4" stroke="#2222ff" stroke-width="0.9" />
<text x="192.4" y="263.3" font-family="Liberation Sans, Arial, sans-serif" font-size="8.45" fill="#2222ff" font-weight="bold" font-style="normal" text-anchor="middle" ><tspan font-weight="normal" fill="#2222ff">Δ</tspan><tspan font-style="italic" fill="#2222ff">G</tspan><tspan>-R</tspan><tspan dy="-3.21" font-size="6.25">1</tspan><tspan dy="3.21">/R</tspan><tspan dy="-3.21" font-size="6.25">2</tspan></text>
<polygon points="179.7,267.6 181.8,274.6 179.7,272.85 177.6,274.6" fill="#ff2a1a" stroke="#ff2a1a" stroke-width="0" stroke-linejoin="round" />
<line x1="179.7" y1="272.5" x2="179.7" y2="302.1" stroke="#ff2a1a" stroke-width="0.9" />
<polygon points="179.7,307 177.6,300 179.7,301.75 181.8,300" fill="#ff2a1a" stroke="#ff2a1a" stroke-width="0" stroke-linejoin="round" />
<text x="185.9" y="284.2" font-family="Liberation Sans, Arial, sans-serif" font-size="8.45" fill="#ff2a1a" font-weight="bold" font-style="normal" text-anchor="start" ><tspan font-weight="normal">ΔΔ</tspan><tspan font-style="italic">G</tspan><tspan>-R</tspan><tspan dy="-3.21" font-size="6.25">1</tspan><tspan dy="3.21">/R</tspan><tspan dy="-3.21" font-size="6.25">2</tspan><tspan dy="3.21" fill="#222"> =</tspan></text>
<text x="185.9" y="295" font-family="Liberation Sans, Arial, sans-serif" font-size="8.45" fill="#2222ff" font-weight="bold" font-style="normal" text-anchor="start" ><tspan font-weight="normal">Δ</tspan><tspan font-style="italic">G</tspan><tspan>-R</tspan><tspan dy="-3.21" font-size="6.25">1</tspan><tspan dy="3.21">/R</tspan><tspan dy="-3.21" font-size="6.25">2</tspan><tspan dy="3.21" fill="#222">- </tspan><tspan font-weight="normal" fill="#7b1346">Δ</tspan><tspan font-style="italic" fill="#7b1346">G</tspan><tspan fill="#7b1346">-Me</tspan></text>
<text x="193" y="319.2" font-family="Liberation Sans, Arial, sans-serif" font-size="8.45" fill="#7b1346" font-weight="bold" font-style="normal" text-anchor="middle" ><tspan font-weight="normal" fill="#7b1346">Δ</tspan><tspan font-style="italic" fill="#7b1346">G</tspan><tspan>-Me</tspan></text>
<polyline points="181.5,368 176.4,353.6 188.5,347 200.3,353.6 195.9,368" fill="none" stroke="#7b1346" stroke-width="0.95" stroke-linejoin="round" />
<line x1="181.5" y1="368" x2="195.9" y2="368" stroke="#7b1346" stroke-width="0.95" />
<polyline points="178.6,355.1 188.5,349.6 198.1,355.1" fill="none" stroke="#7b1346" stroke-width="0.6" stroke-linejoin="round" stroke-dasharray="1 0.8"/>
<text x="188.5" y="358.4" font-family="Liberation Sans, Arial, sans-serif" font-size="10" fill="#7b1346" font-weight="normal" font-style="normal" text-anchor="middle" >+</text>
<line x1="188.5" y1="347" x2="188.5" y2="337.6" stroke="#7b1346" stroke-width="0.95" />
<text x="188.5" y="336.8" font-family="Liberation Sans, Arial, sans-serif" font-size="8.65" fill="#7b1346" font-weight="bold" font-style="normal" text-anchor="middle" >O</text>
<line x1="191.5" y1="331.8" x2="197.5" y2="328.2" stroke="#7b1346" stroke-width="0.95" />
<text x="198.1" y="330" font-family="Liberation Sans, Arial, sans-serif" font-size="8.65" fill="#7b1346" font-weight="bold" font-style="normal" text-anchor="start" >LA</text>
<line x1="176.4" y1="353.6" x2="166.8" y2="347.4" stroke="#7b1346" stroke-width="0.95" />
<text x="167" y="349" font-family="Liberation Sans, Arial, sans-serif" font-size="8.65" fill="#7b1346" font-weight="bold" font-style="normal" text-anchor="end" ><tspan>R</tspan><tspan dy="-3.29" font-size="6.4">1</tspan><tspan dy="3.29">/R</tspan><tspan dy="-3.29" font-size="6.4">2</tspan></text>
<line x1="200.3" y1="353.6" x2="212.7" y2="347.1" stroke="#7b1346" stroke-width="0.95" />
<polygon points="181.5,368 167.7,368 167.7,381.6 181.5,381.6" fill="none" stroke="#7b1346" stroke-width="0.95" stroke-linejoin="round" />
<line x1="195.9" y1="368" x2="209.7" y2="368" stroke="#7b1346" stroke-width="0.95" stroke-dasharray="1.3 1.2"/>
<polyline points="209.7,368 209.7,381.6 195.9,381.6 195.9,368" fill="none" stroke="#7b1346" stroke-width="0.95" stroke-linejoin="round" />
<line x1="200.3" y1="353.6" x2="209.7" y2="368" stroke="#7b1346" stroke-width="0.95" stroke-dasharray="1.3 1.2"/>
<polyline points="147.4,323.6 143.8,323.6 143.8,384.2 147.4,384.2" fill="none" stroke="#7b1346" stroke-width="0.9" stroke-linejoin="round" />
<polyline points="212.4,323.6 216,323.6 216,384.2 212.4,384.2" fill="none" stroke="#7b1346" stroke-width="0.9" stroke-linejoin="round" />
<line x1="222.2" y1="320.8" x2="222.2" y2="331.6" stroke="#7b1346" stroke-width="0.9" />
<line x1="219" y1="323.6" x2="225.4" y2="323.6" stroke="#7b1346" stroke-width="0.9" />
<line x1="219" y1="327.7" x2="225.4" y2="327.7" stroke="#7b1346" stroke-width="0.9" />
<polyline points="289,301.8 284.5,287.1 296.4,280.4 308.1,287.1 304.2,301.8" fill="none" stroke="#000" stroke-width="0.95" stroke-linejoin="round" />
<line x1="289" y1="301.8" x2="304.2" y2="301.8" stroke="#000" stroke-width="0.95" />
<polyline points="286.7,288.6 296.4,283 305.9,288.6" fill="none" stroke="#000" stroke-width="0.6" stroke-linejoin="round" stroke-dasharray="1 0.8"/>
<text x="296.4" y="291.8" font-family="Liberation Sans, Arial, sans-serif" font-size="10" fill="#222" font-weight="normal" font-style="normal" text-anchor="middle" >+</text>
<line x1="296.4" y1="280.4" x2="296.4" y2="271" stroke="#000" stroke-width="0.95" />
<text x="296.4" y="270.2" font-family="Liberation Sans, Arial, sans-serif" font-size="8.65" fill="#000" font-weight="bold" font-style="normal" text-anchor="middle" >O</text>
<line x1="299.4" y1="265.2" x2="305.4" y2="261.6" stroke="#000" stroke-width="0.95" />
<text x="306" y="263.4" font-family="Liberation Sans, Arial, sans-serif" font-size="8.65" fill="#000" font-weight="bold" font-style="normal" text-anchor="start" >LA</text>
<line x1="284.5" y1="287.1" x2="272.1" y2="280.6" stroke="#000" stroke-width="0.95" />
<line x1="308.1" y1="287.1" x2="320.5" y2="280.6" stroke="#000" stroke-width="0.95" />
<path d="M289,301.8 H278 C271.5,301.8 272,318.6 281,318.6 C287,318.6 289,315.8 289,310.8 Z" fill="none" stroke="#000" stroke-width="0.95" />
<text x="281" y="312.8" font-family="Liberation Sans, Arial, sans-serif" font-size="7.7" fill="#000" font-weight="bold" font-style="italic" text-anchor="middle" >m/n</text>
<polygon points="304.2,301.8 318,301.8 318,315.4 304.2,315.4" fill="none" stroke="#000" stroke-width="0.95" stroke-linejoin="round" />
<text x="297.2" y="322" font-family="Liberation Sans, Arial, sans-serif" font-size="8.65" fill="#000" font-weight="bold" font-style="normal" text-anchor="middle" >e</text>
<text x="297.2" y="331.2" font-family="Liberation Sans, Arial, sans-serif" font-size="8.65" fill="#000" font-weight="bold" font-style="normal" text-anchor="middle" >0.0</text>
<line x1="285.4" y1="333.8" x2="308.4" y2="333.8" stroke="#000" stroke-width="1.8" />
<line x1="308" y1="333.8" x2="400.4" y2="265.9" stroke="#2222ff" stroke-width="0.9" />
<line x1="400" y1="265.9" x2="432" y2="265.9" stroke="#2222ff" stroke-width="1.8" />
<line x1="308" y1="333.8" x2="400.4" y2="308.6" stroke="#7b1346" stroke-width="0.9" />
<line x1="400" y1="308.6" x2="432" y2="308.6" stroke="#7b1346" stroke-width="1.8" />
<polyline points="401.1,236.5 396,221.7 408.1,215.1 419.9,221.7 416.7,236.5" fill="none" stroke="#2222ff" stroke-width="0.95" stroke-linejoin="round" />
<line x1="401.1" y1="236.5" x2="416.7" y2="236.5" stroke="#2222ff" stroke-width="0.95" />
<polyline points="398.2,223.2 408.1,217.7 417.7,223.2" fill="none" stroke="#2222ff" stroke-width="0.6" stroke-linejoin="round" stroke-dasharray="1 0.8"/>
<text x="408.1" y="226.5" font-family="Liberation Sans, Arial, sans-serif" font-size="10" fill="#2222ff" font-weight="normal" font-style="normal" text-anchor="middle" >+</text>
<line x1="408.1" y1="215.1" x2="408.1" y2="205.7" stroke="#2222ff" stroke-width="0.95" />
<text x="408.1" y="204.9" font-family="Liberation Sans, Arial, sans-serif" font-size="8.65" fill="#2222ff" font-weight="bold" font-style="normal" text-anchor="middle" >O</text>
<line x1="411.1" y1="199.9" x2="417.1" y2="196.3" stroke="#2222ff" stroke-width="0.95" />
<text x="417.7" y="198.1" font-family="Liberation Sans, Arial, sans-serif" font-size="8.65" fill="#2222ff" font-weight="bold" font-style="normal" text-anchor="start" >LA</text>
<line x1="396" y1="221.7" x2="383.6" y2="215.2" stroke="#2222ff" stroke-width="0.95" />
<line x1="419.9" y1="221.7" x2="432.3" y2="215.2" stroke="#2222ff" stroke-width="0.95" />
<line x1="401.1" y1="236.5" x2="387.1" y2="236.5" stroke="#2222ff" stroke-width="0.95" stroke-dasharray="1.3 1.2"/>
<path d="M387.1,236.5 C382.6,240.5 383.1,253.3 393.1,253.3 C399.1,253.3 401.1,250.5 401.1,245.5 V236.5" fill="none" stroke="#2222ff" stroke-width="0.95" />
<text x="393.1" y="247.5" font-family="Liberation Sans, Arial, sans-serif" font-size="7.7" fill="#2222ff" font-weight="bold" font-style="italic" text-anchor="middle" >m/n</text>
<line x1="396" y1="221.7" x2="387.1" y2="236.5" stroke="#2222ff" stroke-width="0.95" stroke-dasharray="1.3 1.2"/>
<polygon points="416.7,236.5 430.5,236.5 430.5,250.1 416.7,250.1" fill="none" stroke="#2222ff" stroke-width="0.95" stroke-linejoin="round" />
<polyline points="382.2,191.3 378.6,191.3 378.6,253.3 382.2,253.3" fill="none" stroke="#2222ff" stroke-width="0.9" stroke-linejoin="round" />
<polyline points="432.9,191.3 436.5,191.3 436.5,253.3 432.9,253.3" fill="none" stroke="#2222ff" stroke-width="0.9" stroke-linejoin="round" />
<line x1="442.7" y1="188.5" x2="442.7" y2="199.3" stroke="#2222ff" stroke-width="0.9" />
<line x1="439.5" y1="191.3" x2="445.9" y2="191.3" stroke="#2222ff" stroke-width="0.9" />
<line x1="439.5" y1="195.4" x2="445.9" y2="195.4" stroke="#2222ff" stroke-width="0.9" />
<text x="416.2" y="263.3" font-family="Liberation Sans, Arial, sans-serif" font-size="8.45" fill="#2222ff" font-weight="bold" font-style="normal" text-anchor="middle" ><tspan font-weight="normal" fill="#2222ff">Δ</tspan><tspan font-style="italic" fill="#2222ff">G</tspan><tspan font-style="italic">-m/n</tspan></text>
<polygon points="407.2,267.6 409.3,274.6 407.2,272.85 405.1,274.6" fill="#ff2a1a" stroke="#ff2a1a" stroke-width="0" stroke-linejoin="round" />
<line x1="407.2" y1="272.5" x2="407.2" y2="302.1" stroke="#ff2a1a" stroke-width="0.9" />
<polygon points="407.2,307 405.1,300 407.2,301.75 409.3,300" fill="#ff2a1a" stroke="#ff2a1a" stroke-width="0" stroke-linejoin="round" />
<text x="413.2" y="284.2" font-family="Liberation Sans, Arial, sans-serif" font-size="8.45" fill="#ff2a1a" font-weight="bold" font-style="normal" text-anchor="start" ><tspan font-weight="normal">ΔΔ</tspan><tspan font-style="italic">G-m/n</tspan><tspan fill="#222"> =</tspan></text>
<text x="413.2" y="295" font-family="Liberation Sans, Arial, sans-serif" font-size="8.45" fill="#2222ff" font-weight="bold" font-style="normal" text-anchor="start" ><tspan font-weight="normal">Δ</tspan><tspan font-style="italic">G-m/n</tspan><tspan fill="#222"> - </tspan><tspan font-weight="normal" fill="#7b1346">Δ</tspan><tspan font-style="italic" fill="#7b1346">G-4</tspan></text>
<text x="416.4" y="319.2" font-family="Liberation Sans, Arial, sans-serif" font-size="8.45" fill="#7b1346" font-weight="bold" font-style="normal" text-anchor="middle" ><tspan font-weight="normal">Δ</tspan><tspan font-style="italic">G-4</tspan></text>
<polyline points="400.4,367.9 395.3,353.5 407.4,346.9 419.2,353.5 414.8,367.9" fill="none" stroke="#7b1346" stroke-width="0.95" stroke-linejoin="round" />
<line x1="400.4" y1="367.9" x2="414.8" y2="367.9" stroke="#7b1346" stroke-width="0.95" />
<polyline points="397.5,355 407.4,349.5 417,355" fill="none" stroke="#7b1346" stroke-width="0.6" stroke-linejoin="round" stroke-dasharray="1 0.8"/>
<text x="407.4" y="358.3" font-family="Liberation Sans, Arial, sans-serif" font-size="10" fill="#7b1346" font-weight="normal" font-style="normal" text-anchor="middle" >+</text>
<line x1="407.4" y1="346.9" x2="407.4" y2="337.5" stroke="#7b1346" stroke-width="0.95" />
<text x="407.4" y="336.7" font-family="Liberation Sans, Arial, sans-serif" font-size="8.65" fill="#7b1346" font-weight="bold" font-style="normal" text-anchor="middle" >O</text>
<line x1="410.4" y1="331.7" x2="416.4" y2="328.1" stroke="#7b1346" stroke-width="0.95" />
<text x="417" y="329.9" font-family="Liberation Sans, Arial, sans-serif" font-size="8.65" fill="#7b1346" font-weight="bold" font-style="normal" text-anchor="start" >LA</text>
<line x1="395.3" y1="353.5" x2="382.9" y2="347" stroke="#7b1346" stroke-width="0.95" />
<line x1="419.2" y1="353.5" x2="431.6" y2="347" stroke="#7b1346" stroke-width="0.95" />
<path d="M400.4,367.9 H389.4 C382.9,367.9 383.4,384.7 392.4,384.7 C398.4,384.7 400.4,381.9 400.4,376.9 Z" fill="none" stroke="#7b1346" stroke-width="0.95" />
<text x="392.4" y="378.9" font-family="Liberation Sans, Arial, sans-serif" font-size="7.7" fill="#7b1346" font-weight="bold" font-style="italic" text-anchor="middle" >m/n</text>
<line x1="414.8" y1="367.9" x2="428.6" y2="367.9" stroke="#7b1346" stroke-width="0.95" stroke-dasharray="1.3 1.2"/>
<polyline points="428.6,367.9 428.6,381.5 414.8,381.5 414.8,367.9" fill="none" stroke="#7b1346" stroke-width="0.95" stroke-linejoin="round" />
<line x1="419.2" y1="353.5" x2="428.6" y2="367.9" stroke="#7b1346" stroke-width="0.95" stroke-dasharray="1.3 1.2"/>
<polyline points="382.4,323.8 378.8,323.8 378.8,384.6 382.4,384.6" fill="none" stroke="#7b1346" stroke-width="0.9" stroke-linejoin="round" />
<polyline points="433,323.8 436.6,323.8 436.6,384.6 433,384.6" fill="none" stroke="#7b1346" stroke-width="0.9" stroke-linejoin="round" />
<line x1="442.8" y1="321" x2="442.8" y2="331.8" stroke="#7b1346" stroke-width="0.9" />
<line x1="439.6" y1="323.8" x2="446" y2="323.8" stroke="#7b1346" stroke-width="0.9" />
<line x1="439.6" y1="327.9" x2="446" y2="327.9" stroke="#7b1346" stroke-width="0.9" />
<polyline points="505.7,301.8 501.2,287.1 513.1,280.4 524.8,287.1 520.9,301.8" fill="none" stroke="#000" stroke-width="0.95" stroke-linejoin="round" />
<line x1="505.7" y1="301.8" x2="520.9" y2="301.8" stroke="#000" stroke-width="0.95" />
<polyline points="503.4,288.6 513.1,283 522.6,288.6" fill="none" stroke="#000" stroke-width="0.6" stroke-linejoin="round" stroke-dasharray="1 0.8"/>
<text x="513.1" y="291.8" font-family="Liberation Sans, Arial, sans-serif" font-size="10" fill="#222" font-weight="normal" font-style="normal" text-anchor="middle" >+</text>
<line x1="513.1" y1="280.4" x2="513.1" y2="271" stroke="#000" stroke-width="0.95" />
<text x="513.1" y="270.2" font-family="Liberation Sans, Arial, sans-serif" font-size="8.65" fill="#000" font-weight="bold" font-style="normal" text-anchor="middle" >O</text>
<line x1="516.1" y1="265.2" x2="522.1" y2="261.6" stroke="#000" stroke-width="0.95" />
<text x="522.7" y="263.4" font-family="Liberation Sans, Arial, sans-serif" font-size="8.65" fill="#000" font-weight="bold" font-style="normal" text-anchor="start" >LA</text>
<line x1="501.2" y1="287.1" x2="495.4" y2="283.1" stroke="#000" stroke-width="0.95" />
<text x="495.8" y="283.9" font-family="Liberation Sans, Arial, sans-serif" font-size="8.65" fill="#000" font-weight="bold" font-style="normal" text-anchor="end" ><tspan>R</tspan><tspan dy="-3.29" font-size="6.4">1</tspan></text>
<line x1="524.8" y1="287.1" x2="533.4" y2="282.9" stroke="#000" stroke-width="0.95" />
<text x="533.8" y="283.1" font-family="Liberation Sans, Arial, sans-serif" font-size="8.65" fill="#000" font-weight="bold" font-style="normal" text-anchor="start" ><tspan>R</tspan><tspan dy="-3.29" font-size="6.4">2</tspan></text>
<path d="M505.7,301.8 H494.2 C488.1,301.8 488.5,318 497.1,318 C503.7,318 505.7,315.3 505.7,310.8 Z" fill="none" stroke="#000" stroke-width="0.95" />
<text x="497.3" y="312" font-family="Liberation Sans, Arial, sans-serif" font-size="8.3" fill="#000" font-weight="bold" font-style="italic" text-anchor="middle" >m</text>
<path d="M520.9,301.8 H532.4 C538.5,301.8 538.1,318 529.5,318 C522.9,318 520.9,315.3 520.9,310.8 Z" fill="none" stroke="#000" stroke-width="0.95" />
<text x="529.3" y="312" font-family="Liberation Sans, Arial, sans-serif" font-size="8.3" fill="#000" font-weight="bold" font-style="italic" text-anchor="middle" >n</text>
<text x="513.6" y="322" font-family="Liberation Sans, Arial, sans-serif" font-size="8.65" fill="#000" font-weight="bold" font-style="normal" text-anchor="middle" >e</text>
<text x="513.6" y="331.2" font-family="Liberation Sans, Arial, sans-serif" font-size="8.65" fill="#000" font-weight="bold" font-style="normal" text-anchor="middle" >0.0</text>
<line x1="502.4" y1="333.8" x2="525.4" y2="333.8" stroke="#000" stroke-width="1.8" />
<line x1="525" y1="333.8" x2="615.6" y2="265.9" stroke="#2222ff" stroke-width="0.9" />
<line x1="615.2" y1="265.9" x2="640" y2="265.9" stroke="#2222ff" stroke-width="1.8" />
<line x1="525" y1="333.8" x2="615.6" y2="308.6" stroke="#7b1346" stroke-width="0.9" />
<line x1="615.2" y1="308.6" x2="640" y2="308.6" stroke="#7b1346" stroke-width="1.8" />
<polyline points="615.2,236.5 610.1,221.7 622.2,215.1 634,221.7 630.8,236.5" fill="none" stroke="#2222ff" stroke-width="0.95" stroke-linejoin="round" />
<line x1="615.2" y1="236.5" x2="630.8" y2="236.5" stroke="#2222ff" stroke-width="0.95" />
<polyline points="612.3,223.2 622.2,217.7 631.8,223.2" fill="none" stroke="#2222ff" stroke-width="0.6" stroke-linejoin="round" stroke-dasharray="1 0.8"/>
<text x="622.2" y="226.5" font-family="Liberation Sans, Arial, sans-serif" font-size="10" fill="#2222ff" font-weight="normal" font-style="normal" text-anchor="middle" >+</text>
<line x1="622.2" y1="215.1" x2="622.2" y2="205.7" stroke="#2222ff" stroke-width="0.95" />
<text x="622.2" y="204.9" font-family="Liberation Sans, Arial, sans-serif" font-size="8.65" fill="#2222ff" font-weight="bold" font-style="normal" text-anchor="middle" >O</text>
<line x1="625.2" y1="199.9" x2="631.2" y2="196.3" stroke="#2222ff" stroke-width="0.95" />
<text x="631.8" y="198.1" font-family="Liberation Sans, Arial, sans-serif" font-size="8.65" fill="#2222ff" font-weight="bold" font-style="normal" text-anchor="start" >LA</text>
<line x1="610.1" y1="221.7" x2="604.3" y2="217.7" stroke="#2222ff" stroke-width="0.95" />
<text x="604.7" y="218.5" font-family="Liberation Sans, Arial, sans-serif" font-size="8.65" fill="#2222ff" font-weight="bold" font-style="normal" text-anchor="end" ><tspan>R</tspan><tspan dy="-3.29" font-size="6.4">1</tspan></text>
<line x1="634" y1="221.7" x2="642.6" y2="217.5" stroke="#2222ff" stroke-width="0.95" />
<text x="643" y="217.7" font-family="Liberation Sans, Arial, sans-serif" font-size="8.65" fill="#2222ff" font-weight="bold" font-style="normal" text-anchor="start" ><tspan>R</tspan><tspan dy="-3.29" font-size="6.4">2</tspan></text>
<line x1="615.2" y1="236.5" x2="601.2" y2="236.5" stroke="#2222ff" stroke-width="0.95" stroke-dasharray="1.3 1.2"/>
<path d="M601.2,236.5 C597.4,239.5 597.8,252.7 606.6,252.7 C613.2,252.7 615.2,250 615.2,245.5 V236.5" fill="none" stroke="#2222ff" stroke-width="0.95" />
<text x="606.8" y="246.7" font-family="Liberation Sans, Arial, sans-serif" font-size="8.3" fill="#2222ff" font-weight="bold" font-style="italic" text-anchor="middle" >m</text>
<line x1="610.1" y1="221.7" x2="601.2" y2="236.5" stroke="#2222ff" stroke-width="0.95" stroke-dasharray="1.3 1.2"/>
<path d="M630.8,236.5 H642.3 C648.4,236.5 648,252.7 639.4,252.7 C632.8,252.7 630.8,250 630.8,245.5 Z" fill="none" stroke="#2222ff" stroke-width="0.95" />
<text x="639.2" y="246.7" font-family="Liberation Sans, Arial, sans-serif" font-size="8.3" fill="#2222ff" font-weight="bold" font-style="italic" text-anchor="middle" >n</text>
<polyline points="596.4,191.3 592.8,191.3 592.8,253 596.4,253" fill="none" stroke="#2222ff" stroke-width="0.9" stroke-linejoin="round" />
<polyline points="652,191.3 655.6,191.3 655.6,253 652,253" fill="none" stroke="#2222ff" stroke-width="0.9" stroke-linejoin="round" />
<line x1="661.8" y1="188.5" x2="661.8" y2="199.3" stroke="#2222ff" stroke-width="0.9" />
<line x1="658.6" y1="191.3" x2="665" y2="191.3" stroke="#2222ff" stroke-width="0.9" />
<line x1="658.6" y1="195.4" x2="665" y2="195.4" stroke="#2222ff" stroke-width="0.9" />
<text x="629.2" y="263.3" font-family="Liberation Sans, Arial, sans-serif" font-size="8.45" fill="#2222ff" font-weight="bold" font-style="normal" text-anchor="middle" ><tspan font-weight="normal" fill="#2222ff">Δ</tspan><tspan font-style="italic" fill="#2222ff">G</tspan><tspan>-l</tspan></text>
<polygon points="624.7,267.6 626.8,274.6 624.7,272.85 622.6,274.6" fill="#ff2a1a" stroke="#ff2a1a" stroke-width="0" stroke-linejoin="round" />
<line x1="624.7" y1="272.5" x2="624.7" y2="302.1" stroke="#ff2a1a" stroke-width="0.9" />
<polygon points="624.7,307 622.6,300 624.7,301.75 626.8,300" fill="#ff2a1a" stroke="#ff2a1a" stroke-width="0" stroke-linejoin="round" />
<text x="630" y="284.2" font-family="Liberation Sans, Arial, sans-serif" font-size="8.45" fill="#ff2a1a" font-weight="bold" font-style="normal" text-anchor="start" ><tspan font-weight="normal">ΔΔ</tspan><tspan font-style="italic">G</tspan><tspan fill="#222"> =</tspan></text>
<text x="630" y="295" font-family="Liberation Sans, Arial, sans-serif" font-size="8.45" fill="#2222ff" font-weight="bold" font-style="normal" text-anchor="start" ><tspan font-weight="normal">Δ</tspan><tspan font-style="italic">G</tspan><tspan>-l</tspan><tspan fill="#222"> - </tspan><tspan font-weight="normal" fill="#7b1346">Δ</tspan><tspan font-style="italic" fill="#7b1346">G</tspan><tspan fill="#7b1346">-r</tspan></text>
<text x="629.2" y="319.2" font-family="Liberation Sans, Arial, sans-serif" font-size="8.45" fill="#7b1346" font-weight="bold" font-style="normal" text-anchor="middle" ><tspan font-weight="normal" fill="#7b1346">Δ</tspan><tspan font-style="italic" fill="#7b1346">G</tspan><tspan>-r</tspan></text>
<polyline points="615.4,368.8 610.3,354.4 622.4,347.8 634.2,354.4 629.8,368.8" fill="none" stroke="#7b1346" stroke-width="0.95" stroke-linejoin="round" />
<line x1="615.4" y1="368.8" x2="629.8" y2="368.8" stroke="#7b1346" stroke-width="0.95" />
<polyline points="612.5,355.9 622.4,350.4 632,355.9" fill="none" stroke="#7b1346" stroke-width="0.6" stroke-linejoin="round" stroke-dasharray="1 0.8"/>
<text x="622.4" y="359.2" font-family="Liberation Sans, Arial, sans-serif" font-size="10" fill="#7b1346" font-weight="normal" font-style="normal" text-anchor="middle" >+</text>
<line x1="622.4" y1="347.8" x2="622.4" y2="338.4" stroke="#7b1346" stroke-width="0.95" />
<text x="622.4" y="337.6" font-family="Liberation Sans, Arial, sans-serif" font-size="8.65" fill="#7b1346" font-weight="bold" font-style="normal" text-anchor="middle" >O</text>
<line x1="625.4" y1="332.6" x2="631.4" y2="329" stroke="#7b1346" stroke-width="0.95" />
<text x="632" y="330.8" font-family="Liberation Sans, Arial, sans-serif" font-size="8.65" fill="#7b1346" font-weight="bold" font-style="normal" text-anchor="start" >LA</text>
<line x1="610.3" y1="354.4" x2="604.5" y2="350.4" stroke="#7b1346" stroke-width="0.95" />
<text x="604.9" y="351.2" font-family="Liberation Sans, Arial, sans-serif" font-size="8.65" fill="#7b1346" font-weight="bold" font-style="normal" text-anchor="end" ><tspan>R</tspan><tspan dy="-3.29" font-size="6.4">1</tspan></text>
<line x1="634.2" y1="354.4" x2="642.8" y2="350.2" stroke="#7b1346" stroke-width="0.95" />
<text x="643.2" y="350.4" font-family="Liberation Sans, Arial, sans-serif" font-size="8.65" fill="#7b1346" font-weight="bold" font-style="normal" text-anchor="start" ><tspan>R</tspan><tspan dy="-3.29" font-size="6.4">2</tspan></text>
<path d="M615.4,368.8 H603.9 C597.8,368.8 598.2,385 606.8,385 C613.4,385 615.4,382.3 615.4,377.8 Z" fill="none" stroke="#7b1346" stroke-width="0.95" />
<text x="607" y="379" font-family="Liberation Sans, Arial, sans-serif" font-size="8.3" fill="#7b1346" font-weight="bold" font-style="italic" text-anchor="middle" >m</text>
<line x1="629.8" y1="368.8" x2="643.8" y2="368.8" stroke="#7b1346" stroke-width="0.95" stroke-dasharray="1.3 1.2"/>
<path d="M643.8,368.8 C647.6,371.8 647.2,385 638.4,385 C631.8,385 629.8,382.3 629.8,377.8 V368.8" fill="none" stroke="#7b1346" stroke-width="0.95" />
<text x="638.2" y="379" font-family="Liberation Sans, Arial, sans-serif" font-size="8.3" fill="#7b1346" font-weight="bold" font-style="italic" text-anchor="middle" >n</text>
<line x1="634.2" y1="354.4" x2="643.8" y2="368.8" stroke="#7b1346" stroke-width="0.95" stroke-dasharray="1.3 1.2"/>
<polyline points="596.4,324.1 592.8,324.1 592.8,384.9 596.4,384.9" fill="none" stroke="#7b1346" stroke-width="0.9" stroke-linejoin="round" />
<polyline points="651.7,324.1 655.3,324.1 655.3,384.9 651.7,384.9" fill="none" stroke="#7b1346" stroke-width="0.9" stroke-linejoin="round" />
<line x1="661.5" y1="321.3" x2="661.5" y2="332.1" stroke="#7b1346" stroke-width="0.9" />
<line x1="658.3" y1="324.1" x2="664.7" y2="324.1" stroke="#7b1346" stroke-width="0.9" />
<line x1="658.3" y1="328.2" x2="664.7" y2="328.2" stroke="#7b1346" stroke-width="0.9" />
<text x="2" y="419" font-family="Liberation Sans, Arial, sans-serif" font-size="13" fill="#000" font-weight="normal" font-style="normal" text-anchor="start" >(c)</text>
<text x="83.5" y="429.6" font-family="Liberation Sans, Arial, sans-serif" font-size="10.6" fill="#000" font-weight="bold" font-style="normal" text-anchor="middle" >R-Square</text>
<text x="153.4" y="429.6" font-family="Liberation Sans, Arial, sans-serif" font-size="10.6" fill="#000" font-weight="bold" font-style="normal" text-anchor="middle" >MAE</text>
<rect x="64.3" y="434.7" width="34.2" height="14.72" fill="#1d3c7c" stroke="none" stroke-width="1" />
<rect x="133" y="434.7" width="41" height="14.72" fill="#f3faf0" stroke="none" stroke-width="1" />
<text x="55.2" y="445.3" font-family="Liberation Sans, Arial, sans-serif" font-size="11.5" fill="#111" font-weight="normal" font-style="normal" text-anchor="end" >Linear</text>
<text x="81.4" y="444.3" font-family="Liberation Sans, Arial, sans-serif" font-size="9.2" fill="#fff" font-weight="normal" font-style="normal" text-anchor="middle" >0.978</text>
<text x="153.5" y="444.3" font-family="Liberation Sans, Arial, sans-serif" font-size="9.2" fill="#333" font-weight="normal" font-style="normal" text-anchor="middle" >0.707</text>
<rect x="64.3" y="450.02" width="34.2" height="14.72" fill="#1d3c7c" stroke="none" stroke-width="1" />
<rect x="133" y="450.02" width="41" height="14.72" fill="#f1f9ee" stroke="none" stroke-width="1" />
<text x="55.2" y="460.62" font-family="Liberation Sans, Arial, sans-serif" font-size="11.5" fill="#111" font-weight="normal" font-style="normal" text-anchor="end" >Lasso</text>
<text x="81.4" y="459.62" font-family="Liberation Sans, Arial, sans-serif" font-size="9.2" fill="#fff" font-weight="normal" font-style="normal" text-anchor="middle" >0.978</text>
<text x="153.5" y="459.62" font-family="Liberation Sans, Arial, sans-serif" font-size="9.2" fill="#333" font-weight="normal" font-style="normal" text-anchor="middle" >0.716</text>
<rect x="64.3" y="465.34" width="34.2" height="14.72" fill="#1d3c7c" stroke="none" stroke-width="1" />
<rect x="133" y="465.34" width="41" height="14.72" fill="#f3faf0" stroke="none" stroke-width="1" />
<text x="55.2" y="475.94" font-family="Liberation Sans, Arial, sans-serif" font-size="11.5" fill="#111" font-weight="normal" font-style="normal" text-anchor="end" >Ridge</text>
<text x="81.4" y="474.94" font-family="Liberation Sans, Arial, sans-serif" font-size="9.2" fill="#fff" font-weight="normal" font-style="normal" text-anchor="middle" >0.978</text>
<text x="153.5" y="474.94" font-family="Liberation Sans, Arial, sans-serif" font-size="9.2" fill="#333" font-weight="normal" font-style="normal" text-anchor="middle" >0.708</text>
<rect x="64.3" y="480.66" width="34.2" height="14.72" fill="#1d3c7c" stroke="none" stroke-width="1" />
<rect x="133" y="480.66" width="41" height="14.72" fill="#f3faf0" stroke="none" stroke-width="1" />
<text x="55.2" y="491.26" font-family="Liberation Sans, Arial, sans-serif" font-size="11.5" fill="#111" font-weight="normal" font-style="normal" text-anchor="end" >BR</text>
<text x="81.4" y="490.26" font-family="Liberation Sans, Arial, sans-serif" font-size="9.2" fill="#fff" font-weight="normal" font-style="normal" text-anchor="middle" >0.978</text>
<text x="153.5" y="490.26" font-family="Liberation Sans, Arial, sans-serif" font-size="9.2" fill="#333" font-weight="normal" font-style="normal" text-anchor="middle" >0.708</text>
<rect x="64.3" y="495.98" width="34.2" height="14.72" fill="#2f5fab" stroke="none" stroke-width="1" />
<rect x="133" y="495.98" width="41" height="14.72" fill="#d3eecd" stroke="none" stroke-width="1" />
<text x="55.2" y="506.58" font-family="Liberation Sans, Arial, sans-serif" font-size="11.5" fill="#111" font-weight="normal" font-style="normal" text-anchor="end" >SGD</text>
<text x="81.4" y="505.58" font-family="Liberation Sans, Arial, sans-serif" font-size="9.2" fill="#fff" font-weight="normal" font-style="normal" text-anchor="middle" >0.971</text>
<text x="153.5" y="505.58" font-family="Liberation Sans, Arial, sans-serif" font-size="9.2" fill="#333" font-weight="normal" font-style="normal" text-anchor="middle" >0.861</text>
<rect x="64.3" y="511.3" width="34.2" height="14.72" fill="#1a3572" stroke="none" stroke-width="1" />
<rect x="133" y="511.3" width="41" height="14.72" fill="#f6fcf4" stroke="none" stroke-width="1" />
<text x="55.2" y="521.9" font-family="Liberation Sans, Arial, sans-serif" font-size="11.5" fill="#111" font-weight="normal" font-style="normal" text-anchor="end" >SVR</text>
<text x="81.4" y="520.9" font-family="Liberation Sans, Arial, sans-serif" font-size="9.2" fill="#fff" font-weight="normal" font-style="normal" text-anchor="middle" >0.979</text>
<text x="153.5" y="520.9" font-family="Liberation Sans, Arial, sans-serif" font-size="9.2" fill="#333" font-weight="normal" font-style="normal" text-anchor="middle" >0.691</text>
<rect x="64.3" y="526.62" width="34.2" height="14.72" fill="#1f4083" stroke="none" stroke-width="1" />
<rect x="133" y="526.62" width="41" height="14.72" fill="#eff8ec" stroke="none" stroke-width="1" />
<text x="55.2" y="537.22" font-family="Liberation Sans, Arial, sans-serif" font-size="11.5" fill="#111" font-weight="normal" font-style="normal" text-anchor="end" >MLP</text>
<text x="81.4" y="536.22" font-family="Liberation Sans, Arial, sans-serif" font-size="9.2" fill="#fff" font-weight="normal" font-style="normal" text-anchor="middle" >0.977</text>
<text x="153.5" y="536.22" font-family="Liberation Sans, Arial, sans-serif" font-size="9.2" fill="#333" font-weight="normal" font-style="normal" text-anchor="middle" >0.725</text>
<rect x="64.3" y="541.94" width="34.2" height="14.72" fill="#eef1f9" stroke="none" stroke-width="1" />
<rect x="133" y="541.94" width="41" height="14.72" fill="#1e5622" stroke="none" stroke-width="1" />
<text x="55.2" y="552.54" font-family="Liberation Sans, Arial, sans-serif" font-size="11.5" fill="#111" font-weight="normal" font-style="normal" text-anchor="end" >RF</text>
<text x="81.4" y="551.54" font-family="Liberation Sans, Arial, sans-serif" font-size="9.2" fill="#333" font-weight="normal" font-style="normal" text-anchor="middle" >0.924</text>
<text x="153.5" y="551.54" font-family="Liberation Sans, Arial, sans-serif" font-size="9.2" fill="#fff" font-weight="normal" font-style="normal" text-anchor="middle" >1.462</text>
<rect x="64.3" y="557.26" width="34.2" height="14.72" fill="#f6f8fd" stroke="none" stroke-width="1" />
<rect x="133" y="557.26" width="41" height="14.72" fill="#2a7034" stroke="none" stroke-width="1" />
<text x="55.2" y="567.86" font-family="Liberation Sans, Arial, sans-serif" font-size="11.5" fill="#111" font-weight="normal" font-style="normal" text-anchor="end" >XGB</text>
<text x="81.4" y="566.86" font-family="Liberation Sans, Arial, sans-serif" font-size="9.2" fill="#333" font-weight="normal" font-style="normal" text-anchor="middle" >0.922</text>
<text x="153.5" y="566.86" font-family="Liberation Sans, Arial, sans-serif" font-size="9.2" fill="#fff" font-weight="normal" font-style="normal" text-anchor="middle" >1.391</text>
<rect x="64.3" y="572.58" width="34.2" height="14.72" fill="#6baed6" stroke="none" stroke-width="1" />
<rect x="133" y="572.58" width="41" height="14.72" fill="#78c776" stroke="none" stroke-width="1" />
<text x="55.2" y="583.18" font-family="Liberation Sans, Arial, sans-serif" font-size="11.5" fill="#111" font-weight="normal" font-style="normal" text-anchor="end" >GB</text>
<text x="81.4" y="582.18" font-family="Liberation Sans, Arial, sans-serif" font-size="9.2" fill="#fff" font-weight="normal" font-style="normal" text-anchor="middle" >0.953</text>
<text x="153.5" y="582.18" font-family="Liberation Sans, Arial, sans-serif" font-size="9.2" fill="#fff" font-weight="normal" font-style="normal" text-anchor="middle" >1.105</text>
<rect x="64.3" y="587.9" width="34.2" height="14.72" fill="#559bcb" stroke="none" stroke-width="1" />
<rect x="133" y="587.9" width="41" height="14.72" fill="#80cb7e" stroke="none" stroke-width="1" />
<text x="55.2" y="598.5" font-family="Liberation Sans, Arial, sans-serif" font-size="11.5" fill="#111" font-weight="normal" font-style="normal" text-anchor="end" >CB</text>
<text x="81.4" y="597.5" font-family="Liberation Sans, Arial, sans-serif" font-size="9.2" fill="#fff" font-weight="normal" font-style="normal" text-anchor="middle" >0.957</text>
<text x="153.5" y="597.5" font-family="Liberation Sans, Arial, sans-serif" font-size="9.2" fill="#333" font-weight="normal" font-style="normal" text-anchor="middle" >1.092</text>
<defs>
<linearGradient id="gb" x1="0" y1="0" x2="0" y2="1"><stop offset="0" stop-color="#1a3572"/><stop offset="0.17" stop-color="#2c5aa6"/><stop offset="0.36" stop-color="#5b9bd0"/><stop offset="0.54" stop-color="#a0cbe5"/><stop offset="0.73" stop-color="#d0e2f2"/><stop offset="0.92" stop-color="#ecf3fa"/><stop offset="1" stop-color="#f7fafe"/></linearGradient>
<linearGradient id="gg" x1="0" y1="0" x2="0" y2="1"><stop offset="0" stop-color="#1e5622"/><stop offset="0.11" stop-color="#2a7034"/><stop offset="0.3" stop-color="#4aa354"/><stop offset="0.49" stop-color="#78c776"/><stop offset="0.65" stop-color="#a8dca2"/><stop offset="0.8" stop-color="#d3eecd"/><stop offset="1" stop-color="#f6fcf4"/></linearGradient>
</defs>
<rect x="104.4" y="452.4" width="6.2" height="126.2" fill="url(#gb)" stroke="none" stroke-width="1" />
<rect x="181" y="452.4" width="6.4" height="126.2" fill="url(#gg)" stroke="none" stroke-width="1" />
<line x1="110.6" y1="473.7" x2="112.6" y2="473.7" stroke="#333" stroke-width="0.6" />
<text x="113.2" y="476" font-family="Liberation Sans, Arial, sans-serif" font-size="6.6" fill="#222" font-weight="normal" font-style="normal" text-anchor="start" >0.97</text>
<line x1="110.6" y1="497.3" x2="112.6" y2="497.3" stroke="#333" stroke-width="0.6" />
<text x="113.2" y="499.6" font-family="Liberation Sans, Arial, sans-serif" font-size="6.6" fill="#222" font-weight="normal" font-style="normal" text-anchor="start" >0.96</text>
<line x1="110.6" y1="520.8" x2="112.6" y2="520.8" stroke="#333" stroke-width="0.6" />
<text x="113.2" y="523.1" font-family="Liberation Sans, Arial, sans-serif" font-size="6.6" fill="#222" font-weight="normal" font-style="normal" text-anchor="start" >0.95</text>
<line x1="110.6" y1="544.3" x2="112.6" y2="544.3" stroke="#333" stroke-width="0.6" />
<text x="113.2" y="546.6" font-family="Liberation Sans, Arial, sans-serif" font-size="6.6" fill="#222" font-weight="normal" font-style="normal" text-anchor="start" >0.94</text>
<line x1="110.6" y1="568.4" x2="112.6" y2="568.4" stroke="#333" stroke-width="0.6" />
<text x="113.2" y="570.7" font-family="Liberation Sans, Arial, sans-serif" font-size="6.6" fill="#222" font-weight="normal" font-style="normal" text-anchor="start" >0.93</text>
<line x1="187.4" y1="466.5" x2="189.4" y2="466.5" stroke="#333" stroke-width="0.6" />
<text x="190" y="468.8" font-family="Liberation Sans, Arial, sans-serif" font-size="6.6" fill="#222" font-weight="normal" font-style="normal" text-anchor="start" >1.4</text>
<line x1="187.4" y1="482.4" x2="189.4" y2="482.4" stroke="#333" stroke-width="0.6" />
<text x="190" y="484.7" font-family="Liberation Sans, Arial, sans-serif" font-size="6.6" fill="#222" font-weight="normal" font-style="normal" text-anchor="start" >1.3</text>
<line x1="187.4" y1="498.3" x2="189.4" y2="498.3" stroke="#333" stroke-width="0.6" />
<text x="190" y="500.6" font-family="Liberation Sans, Arial, sans-serif" font-size="6.6" fill="#222" font-weight="normal" font-style="normal" text-anchor="start" >1.2</text>
<line x1="187.4" y1="514.2" x2="189.4" y2="514.2" stroke="#333" stroke-width="0.6" />
<text x="190" y="516.5" font-family="Liberation Sans, Arial, sans-serif" font-size="6.6" fill="#222" font-weight="normal" font-style="normal" text-anchor="start" >1.1</text>
<line x1="187.4" y1="530.1" x2="189.4" y2="530.1" stroke="#333" stroke-width="0.6" />
<text x="190" y="532.4" font-family="Liberation Sans, Arial, sans-serif" font-size="6.6" fill="#222" font-weight="normal" font-style="normal" text-anchor="start" >1.0</text>
<line x1="187.4" y1="546.4" x2="189.4" y2="546.4" stroke="#333" stroke-width="0.6" />
<text x="190" y="548.7" font-family="Liberation Sans, Arial, sans-serif" font-size="6.6" fill="#222" font-weight="normal" font-style="normal" text-anchor="start" >0.9</text>
<line x1="187.4" y1="562.4" x2="189.4" y2="562.4" stroke="#333" stroke-width="0.6" />
<text x="190" y="564.7" font-family="Liberation Sans, Arial, sans-serif" font-size="6.6" fill="#222" font-weight="normal" font-style="normal" text-anchor="start" >0.8</text>
<line x1="187.4" y1="578.4" x2="189.4" y2="578.4" stroke="#333" stroke-width="0.6" />
<text x="190" y="580.7" font-family="Liberation Sans, Arial, sans-serif" font-size="6.6" fill="#222" font-weight="normal" font-style="normal" text-anchor="start" >0.7</text>
<text x="50.6" y="629" font-family="Liberation Sans, Arial, sans-serif" font-size="11.75" fill="#000" font-weight="normal" font-style="normal" text-anchor="start" ><tspan>Model performance : </tspan><tspan font-weight="bold">SVR</tspan></text>
<line x1="63.2" y1="756.3" x2="182.3" y2="640.7" stroke="#5b97c2" stroke-width="0.9" />
<circle cx="74.63" cy="745.76" r="0.95" fill="#2a9d2a" stroke="none" stroke-width="1"/>
<circle cx="76.06" cy="742.69" r="0.95" fill="#2a9d2a" stroke="none" stroke-width="1"/>
<circle cx="76.78" cy="743.62" r="0.95" fill="#2a9d2a" stroke="none" stroke-width="1"/>
<circle cx="80.35" cy="740.35" r="0.95" fill="#2a9d2a" stroke="none" stroke-width="1"/>
<circle cx="83.45" cy="738.69" r="0.95" fill="#2a9d2a" stroke="none" stroke-width="1"/>
<circle cx="84.64" cy="735.96" r="0.95" fill="#2a9d2a" stroke="none" stroke-width="1"/>
<circle cx="85.59" cy="732.12" r="0.95" fill="#2a9d2a" stroke="none" stroke-width="1"/>
<circle cx="87.5" cy="731.79" r="0.95" fill="#2a9d2a" stroke="none" stroke-width="1"/>
<circle cx="88.45" cy="729.52" r="0.95" fill="#2a9d2a" stroke="none" stroke-width="1"/>
<circle cx="89.4" cy="730.32" r="0.95" fill="#2a9d2a" stroke="none" stroke-width="1"/>
<circle cx="90.12" cy="729.31" r="0.95" fill="#2a9d2a" stroke="none" stroke-width="1"/>
<circle cx="91.07" cy="728.84" r="0.95" fill="#2a9d2a" stroke="none" stroke-width="1"/>
<circle cx="91.78" cy="732.22" r="0.95" fill="#2a9d2a" stroke="none" stroke-width="1"/>
<circle cx="92.74" cy="725.75" r="0.95" fill="#2a9d2a" stroke="none" stroke-width="1"/>
<circle cx="93.69" cy="725.59" r="0.95" fill="#2a9d2a" stroke="none" stroke-width="1"/>
<circle cx="94.64" cy="724.69" r="0.95" fill="#2a9d2a" stroke="none" stroke-width="1"/>
<circle cx="96.07" cy="728.11" r="0.95" fill="#2a9d2a" stroke="none" stroke-width="1"/>
<circle cx="97.5" cy="726.84" r="0.95" fill="#2a9d2a" stroke="none" stroke-width="1"/>
<circle cx="98.93" cy="723.57" r="0.95" fill="#2a9d2a" stroke="none" stroke-width="1"/>
<circle cx="100.36" cy="721.26" r="0.95" fill="#2a9d2a" stroke="none" stroke-width="1"/>
<circle cx="101.79" cy="718.17" r="0.95" fill="#2a9d2a" stroke="none" stroke-width="1"/>
<circle cx="102.74" cy="718.02" r="0.95" fill="#2a9d2a" stroke="none" stroke-width="1"/>
<circle cx="103.69" cy="715.85" r="0.95" fill="#2a9d2a" stroke="none" stroke-width="1"/>
<circle cx="104.65" cy="717.48" r="0.95" fill="#2a9d2a" stroke="none" stroke-width="1"/>
<circle cx="105.6" cy="714.47" r="0.95" fill="#2a9d2a" stroke="none" stroke-width="1"/>
<circle cx="106.31" cy="713.59" r="0.95" fill="#2a9d2a" stroke="none" stroke-width="1"/>
<circle cx="107.03" cy="715.21" r="0.95" fill="#2a9d2a" stroke="none" stroke-width="1"/>
<circle cx="107.74" cy="709.29" r="0.95" fill="#2a9d2a" stroke="none" stroke-width="1"/>
<circle cx="108.46" cy="711.15" r="0.95" fill="#2a9d2a" stroke="none" stroke-width="1"/>
<circle cx="108.93" cy="709.28" r="0.95" fill="#2a9d2a" stroke="none" stroke-width="1"/>
<circle cx="109.41" cy="712.81" r="0.95" fill="#2a9d2a" stroke="none" stroke-width="1"/>
<circle cx="109.89" cy="712.61" r="0.95" fill="#2a9d2a" stroke="none" stroke-width="1"/>
<circle cx="110.36" cy="711.28" r="0.95" fill="#2a9d2a" stroke="none" stroke-width="1"/>
<circle cx="110.84" cy="710.29" r="0.95" fill="#2a9d2a" stroke="none" stroke-width="1"/>
<circle cx="110.84" cy="708.67" r="0.95" fill="#2a9d2a" stroke="none" stroke-width="1"/>
<circle cx="111.32" cy="709.05" r="0.95" fill="#2a9d2a" stroke="none" stroke-width="1"/>
<circle cx="111.79" cy="710.12" r="0.95" fill="#2a9d2a" stroke="none" stroke-width="1"/>
<circle cx="112.27" cy="710.77" r="0.95" fill="#2a9d2a" stroke="none" stroke-width="1"/>
<circle cx="112.75" cy="709.35" r="0.95" fill="#2a9d2a" stroke="none" stroke-width="1"/>
<circle cx="113.22" cy="705.07" r="0.95" fill="#2a9d2a" stroke="none" stroke-width="1"/>
<circle cx="113.7" cy="709.06" r="0.95" fill="#2a9d2a" stroke="none" stroke-width="1"/>
<circle cx="114.17" cy="706.29" r="0.95" fill="#2a9d2a" stroke="none" stroke-width="1"/>
<circle cx="114.65" cy="705.42" r="0.95" fill="#2a9d2a" stroke="none" stroke-width="1"/>
<circle cx="115.13" cy="709.17" r="0.95" fill="#2a9d2a" stroke="none" stroke-width="1"/>
<circle cx="115.6" cy="705.33" r="0.95" fill="#2a9d2a" stroke="none" stroke-width="1"/>
<circle cx="116.08" cy="702.1" r="0.95" fill="#2a9d2a" stroke="none" stroke-width="1"/>
<circle cx="116.56" cy="708.94" r="0.95" fill="#2a9d2a" stroke="none" stroke-width="1"/>
<circle cx="117.03" cy="704.76" r="0.95" fill="#2a9d2a" stroke="none" stroke-width="1"/>
<circle cx="117.51" cy="703.82" r="0.95" fill="#2a9d2a" stroke="none" stroke-width="1"/>
<circle cx="117.99" cy="704.92" r="0.95" fill="#2a9d2a" stroke="none" stroke-width="1"/>
<circle cx="118.46" cy="701.57" r="0.95" fill="#2a9d2a" stroke="none" stroke-width="1"/>
<circle cx="119.18" cy="702.1" r="0.95" fill="#2a9d2a" stroke="none" stroke-width="1"/>
<circle cx="119.89" cy="704.49" r="0.95" fill="#2a9d2a" stroke="none" stroke-width="1"/>
<circle cx="120.84" cy="698.53" r="0.95" fill="#2a9d2a" stroke="none" stroke-width="1"/>
<circle cx="121.8" cy="697.95" r="0.95" fill="#2a9d2a" stroke="none" stroke-width="1"/>
<circle cx="122.75" cy="696.42" r="0.95" fill="#2a9d2a" stroke="none" stroke-width="1"/>
<circle cx="123.94" cy="694.18" r="0.95" fill="#2a9d2a" stroke="none" stroke-width="1"/>
<circle cx="125.13" cy="695.39" r="0.95" fill="#2a9d2a" stroke="none" stroke-width="1"/>
<circle cx="125.61" cy="695.46" r="0.95" fill="#2a9d2a" stroke="none" stroke-width="1"/>
<circle cx="126.32" cy="697.89" r="0.95" fill="#2a9d2a" stroke="none" stroke-width="1"/>
<circle cx="127.04" cy="692.99" r="0.95" fill="#2a9d2a" stroke="none" stroke-width="1"/>
<circle cx="127.51" cy="695.22" r="0.95" fill="#2a9d2a" stroke="none" stroke-width="1"/>
<circle cx="127.99" cy="694.41" r="0.95" fill="#2a9d2a" stroke="none" stroke-width="1"/>
<circle cx="128.71" cy="695.5" r="0.95" fill="#2a9d2a" stroke="none" stroke-width="1"/>
<circle cx="129.42" cy="694.15" r="0.95" fill="#2a9d2a" stroke="none" stroke-width="1"/>
<circle cx="130.37" cy="692.27" r="0.95" fill="#2a9d2a" stroke="none" stroke-width="1"/>
<circle cx="131.33" cy="687.35" r="0.95" fill="#2a9d2a" stroke="none" stroke-width="1"/>
<circle cx="132.28" cy="693.71" r="0.95" fill="#2a9d2a" stroke="none" stroke-width="1"/>
<circle cx="133.23" cy="691.53" r="0.95" fill="#2a9d2a" stroke="none" stroke-width="1"/>
<circle cx="134.18" cy="686.88" r="0.95" fill="#2a9d2a" stroke="none" stroke-width="1"/>
<circle cx="135.14" cy="683.31" r="0.95" fill="#2a9d2a" stroke="none" stroke-width="1"/>
<circle cx="136.57" cy="683.82" r="0.95" fill="#2a9d2a" stroke="none" stroke-width="1"/>
<circle cx="137.99" cy="687.88" r="0.95" fill="#2a9d2a" stroke="none" stroke-width="1"/>
<circle cx="139.42" cy="687.85" r="0.95" fill="#2a9d2a" stroke="none" stroke-width="1"/>
<circle cx="140.85" cy="680.14" r="0.95" fill="#2a9d2a" stroke="none" stroke-width="1"/>
<circle cx="142.28" cy="681.16" r="0.95" fill="#2a9d2a" stroke="none" stroke-width="1"/>
<circle cx="143.71" cy="680.61" r="0.95" fill="#2a9d2a" stroke="none" stroke-width="1"/>
<circle cx="145.14" cy="674.62" r="0.95" fill="#2a9d2a" stroke="none" stroke-width="1"/>
<circle cx="146.57" cy="672.96" r="0.95" fill="#2a9d2a" stroke="none" stroke-width="1"/>
<circle cx="148" cy="673.65" r="0.95" fill="#2a9d2a" stroke="none" stroke-width="1"/>
<circle cx="152.76" cy="668.83" r="0.95" fill="#2a9d2a" stroke="none" stroke-width="1"/>
<circle cx="153.72" cy="667.49" r="0.95" fill="#2a9d2a" stroke="none" stroke-width="1"/>
<circle cx="154.67" cy="664.02" r="0.95" fill="#2a9d2a" stroke="none" stroke-width="1"/>
<circle cx="155.62" cy="665.23" r="0.95" fill="#2a9d2a" stroke="none" stroke-width="1"/>
<circle cx="160.86" cy="660.37" r="0.95" fill="#2a9d2a" stroke="none" stroke-width="1"/>
<circle cx="75.11" cy="739.19" r="0.95" fill="#2a9d2a" stroke="none" stroke-width="1"/>
<circle cx="80.83" cy="733.64" r="0.95" fill="#2a9d2a" stroke="none" stroke-width="1"/>
<circle cx="87.97" cy="728.56" r="0.95" fill="#2a9d2a" stroke="none" stroke-width="1"/>
<circle cx="90.59" cy="725.32" r="0.95" fill="#2a9d2a" stroke="none" stroke-width="1"/>
<circle cx="95.83" cy="729.02" r="0.95" fill="#2a9d2a" stroke="none" stroke-width="1"/>
<circle cx="110.36" cy="704.51" r="0.95" fill="#2a9d2a" stroke="none" stroke-width="1"/>
<circle cx="115.13" cy="700.35" r="0.95" fill="#2a9d2a" stroke="none" stroke-width="1"/>
<circle cx="117.99" cy="699.89" r="0.95" fill="#2a9d2a" stroke="none" stroke-width="1"/>
<circle cx="130.61" cy="684.17" r="0.95" fill="#2a9d2a" stroke="none" stroke-width="1"/>
<circle cx="133.71" cy="683.7" r="0.95" fill="#2a9d2a" stroke="none" stroke-width="1"/>
<circle cx="141.33" cy="684.63" r="0.95" fill="#2a9d2a" stroke="none" stroke-width="1"/>
<circle cx="147.28" cy="682.78" r="0.95" fill="#2a9d2a" stroke="none" stroke-width="1"/>
<circle cx="126.32" cy="701.74" r="0.95" fill="#2a9d2a" stroke="none" stroke-width="1"/>
<circle cx="116.08" cy="710.98" r="0.95" fill="#2a9d2a" stroke="none" stroke-width="1"/>
<circle cx="120.37" cy="706.82" r="0.95" fill="#2a9d2a" stroke="none" stroke-width="1"/>
<circle cx="103.69" cy="720.23" r="0.95" fill="#2a9d2a" stroke="none" stroke-width="1"/>
<circle cx="127.51" cy="690.18" r="0.95" fill="#2a9d2a" stroke="none" stroke-width="1"/>
<circle cx="126.56" cy="691.1" r="0.95" fill="#2a9d2a" stroke="none" stroke-width="1"/>
<rect x="63.2" y="640.7" width="119.1" height="115.6" fill="none" stroke="#222" stroke-width="0.8" />
<text x="63.8" y="769" font-family="DejaVu Sans, Liberation Sans, sans-serif" font-size="10" fill="#111" font-weight="normal" font-style="normal" text-anchor="middle" >−20</text>
<text x="59" y="759.9" font-family="DejaVu Sans, Liberation Sans, sans-serif" font-size="10" fill="#111" font-weight="normal" font-style="normal" text-anchor="end" >−20</text>
<text x="87.62" y="769" font-family="DejaVu Sans, Liberation Sans, sans-serif" font-size="10" fill="#111" font-weight="normal" font-style="normal" text-anchor="middle" >−10</text>
<text x="59" y="736.78" font-family="DejaVu Sans, Liberation Sans, sans-serif" font-size="10" fill="#111" font-weight="normal" font-style="normal" text-anchor="end" >−10</text>
<text x="110.84" y="769" font-family="DejaVu Sans, Liberation Sans, sans-serif" font-size="10" fill="#111" font-weight="normal" font-style="normal" text-anchor="middle" >0</text>
<text x="59" y="713.66" font-family="DejaVu Sans, Liberation Sans, sans-serif" font-size="10" fill="#111" font-weight="normal" font-style="normal" text-anchor="end" >0</text>
<text x="134.66" y="769" font-family="DejaVu Sans, Liberation Sans, sans-serif" font-size="10" fill="#111" font-weight="normal" font-style="normal" text-anchor="middle" >10</text>
<text x="59" y="690.54" font-family="DejaVu Sans, Liberation Sans, sans-serif" font-size="10" fill="#111" font-weight="normal" font-style="normal" text-anchor="end" >10</text>
<text x="158.48" y="769" font-family="DejaVu Sans, Liberation Sans, sans-serif" font-size="10" fill="#111" font-weight="normal" font-style="normal" text-anchor="middle" >20</text>
<text x="59" y="667.42" font-family="DejaVu Sans, Liberation Sans, sans-serif" font-size="10" fill="#111" font-weight="normal" font-style="normal" text-anchor="end" >20</text>
<text x="182.3" y="769" font-family="DejaVu Sans, Liberation Sans, sans-serif" font-size="10" fill="#111" font-weight="normal" font-style="normal" text-anchor="middle" >30</text>
<text x="59" y="644.3" font-family="DejaVu Sans, Liberation Sans, sans-serif" font-size="10" fill="#111" font-weight="normal" font-style="normal" text-anchor="end" >30</text>
<text x="123" y="781" font-family="DejaVu Sans, Liberation Sans, sans-serif" font-size="10.2" fill="#111" font-weight="normal" font-style="normal" text-anchor="middle" >Measured</text>
<text x="0" y="0" font-family="DejaVu Sans, Liberation Sans, sans-serif" font-size="10.2" fill="#111" font-weight="normal" font-style="normal" text-anchor="middle" transform="translate(33.6,699) rotate(-90)">Predicted</text>
<text x="67.6" y="653" font-family="Liberation Sans, Arial, sans-serif" font-size="8.6" fill="#222" font-weight="normal" font-style="normal" text-anchor="start" >R-Square: 0.979</text>
<text x="67.6" y="665.2" font-family="Liberation Sans, Arial, sans-serif" font-size="8.6" fill="#222" font-weight="normal" font-style="normal" text-anchor="start" >MAE: 0.691</text>
<text x="226.6" y="419.4" font-family="Liberation Sans, Arial, sans-serif" font-size="13" fill="#000" font-weight="normal" font-style="normal" text-anchor="start" >(d)</text>
<polyline points="388.42,451.92 384.81,439.71 395.3,433.6 405.62,439.71 402.01,451.92 388.42,451.92" fill="none" stroke="#2222ff" stroke-width="0.8" stroke-linejoin="round" />
<line x1="403.54" y1="440.68" x2="400.79" y2="449.96" stroke="#2222ff" stroke-width="0.8" />
<line x1="394.53" y1="433.6" x2="394.53" y2="426.2" stroke="#2222ff" stroke-width="0.8" />
<line x1="396.07" y1="433.6" x2="396.07" y2="426.2" stroke="#2222ff" stroke-width="0.8" />
<text x="395.3" y="425.34" font-family="Liberation Sans, Arial, sans-serif" font-size="8.4" fill="#2222ff" font-weight="bold" font-style="normal" text-anchor="middle" >O</text>
<line x1="384.81" y1="439.71" x2="382.57" y2="433.17" stroke="#2222ff" stroke-width="0.8" />
<text x="379.13" y="432.31" font-family="Liberation Sans, Arial, sans-serif" font-size="8.4" fill="#2222ff" font-weight="bold" font-style="normal" text-anchor="start" ><tspan>R</tspan><tspan dy="-3.19" font-size="6.22">1</tspan></text>
<line x1="405.62" y1="439.71" x2="413.62" y2="436.78" stroke="#2222ff" stroke-width="0.8" />
<text x="414.05" y="438.67" font-family="Liberation Sans, Arial, sans-serif" font-size="8.4" fill="#2222ff" font-weight="bold" font-style="normal" text-anchor="start" ><tspan>R</tspan><tspan dy="-3.19" font-size="6.22">2</tspan></text>
<path d="M384.81,439.71 L376.21,439.88 C371.05,440.05 368.12,443.15 368.3,448.74 C368.47,456.05 375.35,460.78 388.42,451.92" fill="none" stroke="#2222ff" stroke-width="0.8" />
<text x="376.9" y="449.6" font-family="Liberation Sans, Arial, sans-serif" font-size="7.98" fill="#2222ff" font-weight="bold" font-style="normal" text-anchor="middle" ><tspan font-style="italic">m</tspan><tspan>+1</tspan></text>
<path d="M388.42,451.92 C383.69,458.8 385.84,471.7 395.82,471.7 C406.48,471.7 407.17,458.8 402.01,451.92" fill="none" stroke="#2222ff" stroke-width="0.8" />
<text x="395.64" y="464.13" font-family="Liberation Sans, Arial, sans-serif" font-size="7.98" fill="#2222ff" font-weight="bold" font-style="normal" text-anchor="middle" ><tspan font-style="italic">n</tspan><tspan>+1</tspan></text>
<text x="395.6" y="481.4" font-family="Liberation Sans, Arial, sans-serif" font-size="9.3" fill="#2222ff" font-weight="normal" font-style="normal" text-anchor="middle" >Left expansion</text>
<polyline points="513.62,452.19 510.35,440.84 520.5,434.3 530.82,440.41 527.21,452.19 513.62,452.19" fill="none" stroke="#7b1346" stroke-width="0.8" stroke-linejoin="round" />
<line x1="512.4" y1="441.72" x2="514.88" y2="450.35" stroke="#7b1346" stroke-width="0.8" />
<line x1="519.73" y1="434.3" x2="519.73" y2="426.9" stroke="#7b1346" stroke-width="0.8" />
<line x1="521.27" y1="434.3" x2="521.27" y2="426.9" stroke="#7b1346" stroke-width="0.8" />
<text x="520.5" y="426.04" font-family="Liberation Sans, Arial, sans-serif" font-size="8.4" fill="#7b1346" font-weight="bold" font-style="normal" text-anchor="middle" >O</text>
<line x1="510.35" y1="440.84" x2="505.02" y2="438.6" stroke="#7b1346" stroke-width="0.8" />
<text x="504.85" y="439.63" font-family="Liberation Sans, Arial, sans-serif" font-size="8.4" fill="#7b1346" font-weight="bold" font-style="normal" text-anchor="end" ><tspan>R</tspan><tspan dy="-3.19" font-size="6.22">1</tspan></text>
<line x1="530.82" y1="440.41" x2="533.4" y2="433.87" stroke="#7b1346" stroke-width="0.8" />
<text x="532.2" y="432.67" font-family="Liberation Sans, Arial, sans-serif" font-size="8.4" fill="#7b1346" font-weight="bold" font-style="normal" text-anchor="start" ><tspan>R</tspan><tspan dy="-3.19" font-size="6.22">2</tspan></text>
<path d="M530.82,440.41 L539.42,440.58 C545.44,440.75 549.22,443.85 549.05,449.44 C548.88,456.75 538.56,460.62 527.21,452.19" fill="none" stroke="#7b1346" stroke-width="0.8" />
<text x="539.94" y="450.55" font-family="Liberation Sans, Arial, sans-serif" font-size="7.98" fill="#7b1346" font-weight="bold" font-style="normal" text-anchor="middle" ><tspan font-style="italic">n</tspan><tspan>+1</tspan></text>
<path d="M513.62,452.19 C508.89,459.07 511.04,471.97 521.02,471.97 C531.68,471.97 532.37,459.07 527.21,452.19" fill="none" stroke="#7b1346" stroke-width="0.8" />
<text x="519.98" y="464.74" font-family="Liberation Sans, Arial, sans-serif" font-size="7.98" fill="#7b1346" font-weight="bold" font-style="normal" text-anchor="middle" ><tspan font-style="italic">m</tspan><tspan>+1</tspan></text>
<text x="524.6" y="482" font-family="Liberation Sans, Arial, sans-serif" font-size="9.3" fill="#7b1346" font-weight="normal" font-style="normal" text-anchor="middle" >Right expansion</text>
<text x="636.7" y="468.7" font-family="Liberation Sans, Arial, sans-serif" font-size="11" fill="#111" font-weight="normal" font-style="normal" text-anchor="middle" >Experimental</text>
<text x="637.1" y="482.6" font-family="Liberation Sans, Arial, sans-serif" font-size="11" fill="#111" font-weight="normal" font-style="normal" text-anchor="middle" >validation</text>
<rect x="438.62" y="501.3" width="21.58" height="13.1" fill="#3f8c80" stroke="#2a2a2a" stroke-width="0.7" />
<rect x="439.39" y="514.4" width="20.81" height="13.1" fill="#6a72fb" stroke="#2a2a2a" stroke-width="0.7" />
<rect x="404.98" y="546.1" width="55.22" height="13.1" fill="#3f8c80" stroke="#2a2a2a" stroke-width="0.7" />
<rect x="405.9" y="559.2" width="54.3" height="13.1" fill="#6a72fb" stroke="#2a2a2a" stroke-width="0.7" />
<rect x="378.48" y="590.5" width="81.72" height="13.1" fill="#3f8c80" stroke="#2a2a2a" stroke-width="0.7" />
<rect x="384.63" y="603.6" width="75.57" height="13.1" fill="#6a72fb" stroke="#2a2a2a" stroke-width="0.7" />
<rect x="460.2" y="635" width="34.79" height="13.1" fill="#3f8c80" stroke="#2a2a2a" stroke-width="0.7" />
<rect x="460.2" y="648.1" width="27.42" height="13.1" fill="#6a72fb" stroke="#2a2a2a" stroke-width="0.7" />
<rect x="355.6" y="679.6" width="104.6" height="13.1" fill="#3f8c80" stroke="#2a2a2a" stroke-width="0.7" />
<rect x="371.88" y="692.7" width="88.32" height="13.1" fill="#6a72fb" stroke="#2a2a2a" stroke-width="0.7" />
<rect x="460.2" y="724.1" width="99.84" height="13.1" fill="#3f8c80" stroke="#2a2a2a" stroke-width="0.7" />
<rect x="460.2" y="737.2" width="124.72" height="13.1" fill="#6a72fb" stroke="#2a2a2a" stroke-width="0.7" />
<line x1="460.2" y1="492.4" x2="460.2" y2="758.9" stroke="#000" stroke-width="1" />
<rect x="328.2" y="492.4" width="264.9" height="266.5" fill="none" stroke="#000" stroke-width="1.1" />
<line x1="323.6" y1="514.4" x2="328.2" y2="514.4" stroke="#000" stroke-width="0.9" />
<line x1="323.6" y1="559.2" x2="328.2" y2="559.2" stroke="#000" stroke-width="0.9" />
<line x1="323.6" y1="603.6" x2="328.2" y2="603.6" stroke="#000" stroke-width="0.9" />
<line x1="323.6" y1="648.1" x2="328.2" y2="648.1" stroke="#000" stroke-width="0.9" />
<line x1="323.6" y1="692.7" x2="328.2" y2="692.7" stroke="#000" stroke-width="0.9" />
<line x1="323.6" y1="737.2" x2="328.2" y2="737.2" stroke="#000" stroke-width="0.9" />
<line x1="345" y1="758.9" x2="345" y2="763.1" stroke="#000" stroke-width="0.9" />
<text x="345" y="776" font-family="Liberation Sans, Arial, sans-serif" font-size="9.6" fill="#111" font-weight="normal" font-style="normal" text-anchor="middle" >-15</text>
<line x1="383.4" y1="758.9" x2="383.4" y2="763.1" stroke="#000" stroke-width="0.9" />
<text x="383.4" y="776" font-family="Liberation Sans, Arial, sans-serif" font-size="9.6" fill="#111" font-weight="normal" font-style="normal" text-anchor="middle" >-10</text>
<line x1="421.8" y1="758.9" x2="421.8" y2="763.1" stroke="#000" stroke-width="0.9" />
<text x="421.8" y="776" font-family="Liberation Sans, Arial, sans-serif" font-size="9.6" fill="#111" font-weight="normal" font-style="normal" text-anchor="middle" >-5</text>
<line x1="460.2" y1="758.9" x2="460.2" y2="763.1" stroke="#000" stroke-width="0.9" />
<text x="460.2" y="776" font-family="Liberation Sans, Arial, sans-serif" font-size="9.6" fill="#111" font-weight="normal" font-style="normal" text-anchor="middle" >0</text>
<line x1="498.6" y1="758.9" x2="498.6" y2="763.1" stroke="#000" stroke-width="0.9" />
<text x="498.6" y="776" font-family="Liberation Sans, Arial, sans-serif" font-size="9.6" fill="#111" font-weight="normal" font-style="normal" text-anchor="middle" >5</text>
<line x1="537" y1="758.9" x2="537" y2="763.1" stroke="#000" stroke-width="0.9" />
<text x="537" y="776" font-family="Liberation Sans, Arial, sans-serif" font-size="9.6" fill="#111" font-weight="normal" font-style="normal" text-anchor="middle" >10</text>
<line x1="575.4" y1="758.9" x2="575.4" y2="763.1" stroke="#000" stroke-width="0.9" />
<text x="575.4" y="776" font-family="Liberation Sans, Arial, sans-serif" font-size="9.6" fill="#111" font-weight="normal" font-style="normal" text-anchor="middle" >15</text>
<text x="597" y="776" font-family="Liberation Sans, Arial, sans-serif" font-size="10.4" fill="#111" font-weight="normal" font-style="normal" text-anchor="start" >(in kcal/mol)</text>
<rect x="535.2" y="509.3" width="45.3" height="25.2" fill="#fff" stroke="#8c8c8c" stroke-width="0.9" />
<rect x="536" y="520.4" width="21.4" height="3" fill="#9a9a9a" stroke="none" stroke-width="1" />
<rect x="536.5" y="511.1" width="20.6" height="9.6" fill="#3f8c80" stroke="#2a2a2a" stroke-width="0.7" />
<rect x="536.5" y="523" width="20.6" height="9.6" fill="#6a72fb" stroke="#2a2a2a" stroke-width="0.7" />
<text x="559.8" y="518.9" font-family="Liberation Sans, Arial, sans-serif" font-size="9.1" fill="#ff2a1a" font-weight="bold" font-style="normal" text-anchor="start" >SVR</text>
<text x="560.2" y="530.5" font-family="Liberation Sans, Arial, sans-serif" font-size="9.1" fill="#ff2a1a" font-weight="bold" font-style="normal" text-anchor="start" >DFT</text>
<line x1="449.4" y1="676.8" x2="450.6" y2="675.8" stroke="#e33" stroke-width="0.6" />
<line x1="271.9" y1="509.1" x2="279.6" y2="504.7" stroke="#000" stroke-width="0.75" />
<line x1="279.6" y1="504.7" x2="287.3" y2="509.1" stroke="#000" stroke-width="0.75" />
<line x1="278.8" y1="504.7" x2="278.8" y2="499.1" stroke="#000" stroke-width="0.75" />
<line x1="280.4" y1="504.7" x2="280.4" y2="499.1" stroke="#000" stroke-width="0.75" />
<text x="279.6" y="498.4" font-family="Liberation Sans, Arial, sans-serif" font-size="8" fill="#000" font-weight="bold" font-style="normal" text-anchor="middle" >O</text>
<line x1="272.4" y1="509.1" x2="272.4" y2="519" stroke="#000" stroke-width="0.75" />
<line x1="271" y1="509.9" x2="271" y2="518.6" stroke="#777" stroke-width="0.75" />
<line x1="287.8" y1="509.1" x2="287.8" y2="519" stroke="#000" stroke-width="0.75" />
<line x1="286.4" y1="509.9" x2="286.4" y2="518.6" stroke="#000" stroke-width="0.75" />
<polygon points="271.9,519 278.1,524.8 271.9,530.8 265.3,524.8" fill="none" stroke="#000" stroke-width="0.75" stroke-linejoin="round" />
<polygon points="287.3,519 293.5,524.8 287.3,530.8 280.7,524.8" fill="none" stroke="#000" stroke-width="0.75" stroke-linejoin="round" />
<line x1="271.9" y1="509.1" x2="262.9" y2="504.2" stroke="#000" stroke-width="0.75" />
<line x1="287.3" y1="509.1" x2="292.9" y2="506.4" stroke="#000" stroke-width="0.75" />
<text x="293.7" y="507.8" font-family="Liberation Sans, Arial, sans-serif" font-size="8" fill="#000" font-weight="bold" font-style="normal" text-anchor="start" ><tspan font-style="italic">p</tspan><tspan>-CF</tspan><tspan dy="1.76" font-size="5.92">3</tspan><tspan dy="-1.76">Ph</tspan></text>
<text x="240" y="518.1" font-family="Liberation Sans, Arial, sans-serif" font-size="7.9" fill="#111" font-weight="bold" font-style="normal" text-anchor="start" >15a</text>
<line x1="271.9" y1="552.6" x2="279.6" y2="548.2" stroke="#000" stroke-width="0.75" />
<line x1="279.6" y1="548.2" x2="287.3" y2="552.6" stroke="#000" stroke-width="0.75" />
<line x1="278.8" y1="548.2" x2="278.8" y2="542.6" stroke="#000" stroke-width="0.75" />
<line x1="280.4" y1="548.2" x2="280.4" y2="542.6" stroke="#000" stroke-width="0.75" />
<text x="279.6" y="541.9" font-family="Liberation Sans, Arial, sans-serif" font-size="8" fill="#000" font-weight="bold" font-style="normal" text-anchor="middle" >O</text>
<line x1="272.4" y1="552.6" x2="272.4" y2="562.5" stroke="#000" stroke-width="0.75" />
<line x1="271" y1="553.4" x2="271" y2="562.1" stroke="#777" stroke-width="0.75" />
<line x1="287.8" y1="552.6" x2="287.8" y2="562.5" stroke="#000" stroke-width="0.75" />
<line x1="286.4" y1="553.4" x2="286.4" y2="562.1" stroke="#000" stroke-width="0.75" />
<polygon points="271.9,562.5 278.1,568.3 271.9,574.3 265.3,568.3" fill="none" stroke="#000" stroke-width="0.75" stroke-linejoin="round" />
<polygon points="287.3,562.5 293.5,568.3 287.3,574.3 280.7,568.3" fill="none" stroke="#000" stroke-width="0.75" stroke-linejoin="round" />
<line x1="271.9" y1="552.6" x2="262.9" y2="547.7" stroke="#000" stroke-width="0.75" />
<line x1="287.3" y1="552.6" x2="295.3" y2="548.5" stroke="#000" stroke-width="0.75" />
<line x1="295.3" y1="548.5" x2="296.5" y2="541.5" stroke="#000" stroke-width="0.75" />
<line x1="299.5" y1="537.9" x2="305.7" y2="537.9" stroke="#000" stroke-width="0.75" />
<polyline points="305.7,537.9 310.5,545.1 303.7,551.5 295.3,548.5" fill="none" stroke="#000" stroke-width="0.75" stroke-linejoin="round" />
<line x1="305.12" y1="539.74" x2="308.58" y2="544.92" stroke="#000" stroke-width="0.75" />
<line x1="303.03" y1="549.67" x2="296.98" y2="547.51" stroke="#000" stroke-width="0.75" />
<text x="296.7" y="541.5" font-family="Liberation Sans, Arial, sans-serif" font-size="8" fill="#000" font-weight="bold" font-style="normal" text-anchor="middle" >S</text>
<text x="240" y="561" font-family="Liberation Sans, Arial, sans-serif" font-size="7.9" fill="#111" font-weight="bold" font-style="normal" text-anchor="start" >28a</text>
<line x1="271.9" y1="595.8" x2="279.6" y2="591.4" stroke="#000" stroke-width="0.75" />
<line x1="279.6" y1="591.4" x2="287.3" y2="595.8" stroke="#000" stroke-width="0.75" />
<line x1="278.8" y1="591.4" x2="278.8" y2="585.8" stroke="#000" stroke-width="0.75" />
<line x1="280.4" y1="591.4" x2="280.4" y2="585.8" stroke="#000" stroke-width="0.75" />
<text x="279.6" y="585.1" font-family="Liberation Sans, Arial, sans-serif" font-size="8" fill="#000" font-weight="bold" font-style="normal" text-anchor="middle" >O</text>
<line x1="272.4" y1="595.8" x2="272.4" y2="605.7" stroke="#000" stroke-width="0.75" />
<line x1="271" y1="596.6" x2="271" y2="605.3" stroke="#777" stroke-width="0.75" />
<line x1="287.8" y1="595.8" x2="287.8" y2="605.7" stroke="#000" stroke-width="0.75" />
<line x1="286.4" y1="596.6" x2="286.4" y2="605.3" stroke="#000" stroke-width="0.75" />
<polygon points="271.9,605.7 278.1,611.5 271.9,617.5 265.3,611.5" fill="none" stroke="#000" stroke-width="0.75" stroke-linejoin="round" />
<polygon points="287.3,605.7 294.4,609.8 294.4,618 287.3,622.1 280.2,618 280.2,609.8" fill="none" stroke="#000" stroke-width="0.75" stroke-linejoin="round" />
<line x1="271.9" y1="595.8" x2="262.9" y2="590.9" stroke="#000" stroke-width="0.75" />
<line x1="287.3" y1="595.8" x2="292.9" y2="593.1" stroke="#000" stroke-width="0.75" />
<text x="293.7" y="594.5" font-family="Liberation Sans, Arial, sans-serif" font-size="8" fill="#000" font-weight="bold" font-style="normal" text-anchor="start" >Ph</text>
<text x="240" y="604" font-family="Liberation Sans, Arial, sans-serif" font-size="7.9" fill="#111" font-weight="bold" font-style="normal" text-anchor="start" >29a</text>
<line x1="271.9" y1="644.4" x2="279.6" y2="640" stroke="#000" stroke-width="0.75" />
<line x1="279.6" y1="640" x2="287.3" y2="644.4" stroke="#000" stroke-width="0.75" />
<line x1="278.8" y1="640" x2="278.8" y2="634.4" stroke="#000" stroke-width="0.75" />
<line x1="280.4" y1="640" x2="280.4" y2="634.4" stroke="#000" stroke-width="0.75" />
<text x="279.6" y="633.7" font-family="Liberation Sans, Arial, sans-serif" font-size="8" fill="#000" font-weight="bold" font-style="normal" text-anchor="middle" >O</text>
<line x1="272.4" y1="644.4" x2="272.4" y2="654.3" stroke="#000" stroke-width="0.75" />
<line x1="271" y1="645.2" x2="271" y2="653.9" stroke="#777" stroke-width="0.75" />
<line x1="287.8" y1="644.4" x2="287.8" y2="654.3" stroke="#000" stroke-width="0.75" />
<line x1="286.4" y1="645.2" x2="286.4" y2="653.9" stroke="#000" stroke-width="0.75" />
<polygon points="271.9,654.3 279.03,659.48 276.31,667.87 267.49,667.87 264.77,659.48" fill="none" stroke="#000" stroke-width="0.75" stroke-linejoin="round" />
<polygon points="287.3,654.3 293.5,660.1 287.3,666.1 280.7,660.1" fill="none" stroke="#000" stroke-width="0.75" stroke-linejoin="round" />
<line x1="271.9" y1="644.4" x2="262.9" y2="639.5" stroke="#000" stroke-width="0.75" />
<line x1="287.3" y1="644.4" x2="292.9" y2="641.7" stroke="#000" stroke-width="0.75" />
<text x="293.7" y="643.1" font-family="Liberation Sans, Arial, sans-serif" font-size="8" fill="#000" font-weight="bold" font-style="normal" text-anchor="start" >Ph</text>
<text x="240" y="651.7" font-family="Liberation Sans, Arial, sans-serif" font-size="7.9" fill="#111" font-weight="bold" font-style="normal" text-anchor="start" >30a</text>
<line x1="271.9" y1="689.2" x2="279.6" y2="684.8" stroke="#000" stroke-width="0.75" />
<line x1="279.6" y1="684.8" x2="287.3" y2="689.2" stroke="#000" stroke-width="0.75" />
<line x1="278.8" y1="684.8" x2="278.8" y2="679.2" stroke="#000" stroke-width="0.75" />
<line x1="280.4" y1="684.8" x2="280.4" y2="679.2" stroke="#000" stroke-width="0.75" />
<text x="279.6" y="678.5" font-family="Liberation Sans, Arial, sans-serif" font-size="8" fill="#000" font-weight="bold" font-style="normal" text-anchor="middle" >O</text>
<line x1="272.4" y1="689.2" x2="272.4" y2="699.1" stroke="#000" stroke-width="0.75" />
<line x1="271" y1="690" x2="271" y2="698.7" stroke="#777" stroke-width="0.75" />
<line x1="287.8" y1="689.2" x2="287.8" y2="699.1" stroke="#000" stroke-width="0.75" />
<line x1="286.4" y1="690" x2="286.4" y2="698.7" stroke="#000" stroke-width="0.75" />
<polygon points="271.9,699.1 278.1,704.9 271.9,710.9 265.3,704.9" fill="none" stroke="#000" stroke-width="0.75" stroke-linejoin="round" />
<polygon points="287.3,699.1 292.3,706.7 282.3,706.7" fill="none" stroke="#000" stroke-width="0.75" stroke-linejoin="round" />
<line x1="271.9" y1="689.2" x2="262.9" y2="684.3" stroke="#000" stroke-width="0.75" />
<line x1="287.3" y1="689.2" x2="292.9" y2="686.5" stroke="#000" stroke-width="0.75" />
<text x="293.7" y="687.9" font-family="Liberation Sans, Arial, sans-serif" font-size="8" fill="#000" font-weight="bold" font-style="normal" text-anchor="start" >Et</text>
<text x="240" y="698.2" font-family="Liberation Sans, Arial, sans-serif" font-size="7.9" fill="#111" font-weight="bold" font-style="normal" text-anchor="start" >31a</text>
<line x1="271.9" y1="732.2" x2="279.6" y2="727.8" stroke="#000" stroke-width="0.75" />
<line x1="279.6" y1="727.8" x2="287.3" y2="732.2" stroke="#000" stroke-width="0.75" />
<line x1="278.8" y1="727.8" x2="278.8" y2="722.2" stroke="#000" stroke-width="0.75" />
<line x1="280.4" y1="727.8" x2="280.4" y2="722.2" stroke="#000" stroke-width="0.75" />
<text x="279.6" y="721.5" font-family="Liberation Sans, Arial, sans-serif" font-size="8" fill="#000" font-weight="bold" font-style="normal" text-anchor="middle" >O</text>
<line x1="272.4" y1="732.2" x2="272.4" y2="742.1" stroke="#000" stroke-width="0.75" />
<line x1="271" y1="733" x2="271" y2="741.7" stroke="#777" stroke-width="0.75" />
<line x1="287.8" y1="732.2" x2="287.8" y2="742.1" stroke="#000" stroke-width="0.75" />
<line x1="286.4" y1="733" x2="286.4" y2="741.7" stroke="#000" stroke-width="0.75" />
<polygon points="271.9,742.1 278.1,747.9 271.9,753.9 265.3,747.9" fill="none" stroke="#000" stroke-width="0.75" stroke-linejoin="round" />
<polygon points="287.3,742.1 294.43,747.28 291.71,755.67 282.89,755.67 280.17,747.28" fill="none" stroke="#000" stroke-width="0.75" stroke-linejoin="round" />
<line x1="271.9" y1="732.2" x2="266.5" y2="729.2" stroke="#000" stroke-width="0.75" />
<text x="266" y="731.2" font-family="Liberation Sans, Arial, sans-serif" font-size="8" fill="#000" font-weight="bold" font-style="normal" text-anchor="end" ><tspan>MeO</tspan><tspan dy="1.76" font-size="5.92">2</tspan><tspan dy="-1.76">C</tspan></text>
<line x1="287.3" y1="732.2" x2="296.3" y2="727.3" stroke="#000" stroke-width="0.75" />
<text x="240" y="741.6" font-family="Liberation Sans, Arial, sans-serif" font-size="7.9" fill="#111" font-weight="bold" font-style="normal" text-anchor="start" >32a</text>
<polyline points="632.1,520.3 629.2,510.5 636.9,504.7 645.5,510.5 642.1,519.9 632.1,520.3" fill="none" stroke="#2222ff" stroke-width="0.75" stroke-linejoin="round" />
<line x1="643.49" y1="511.05" x2="640.91" y2="518.19" stroke="#2222ff" stroke-width="0.75" />
<line x1="629.2" y1="510.5" x2="626.3" y2="501.9" stroke="#2222ff" stroke-width="0.75" />
<polyline points="629.2,510.5 619.6,510.5 615.8,519.5 624.4,525.2 632.1,520.3" fill="none" stroke="#2222ff" stroke-width="0.75" stroke-linejoin="round" />
<polyline points="632.1,520.3 629.3,528.6 636.9,534.3 645.5,528.6 642.1,519.9" fill="none" stroke="#2222ff" stroke-width="0.75" stroke-linejoin="round" />
<line x1="645.5" y1="510.5" x2="650.9" y2="508.4" stroke="#2222ff" stroke-width="0.75" />
<text x="651.7" y="510.9" font-family="Liberation Sans, Arial, sans-serif" font-size="8" fill="#2222ff" font-weight="bold" font-style="normal" text-anchor="start" ><tspan font-style="italic">p</tspan><tspan>-CF</tspan><tspan dy="1.76" font-size="5.92">3</tspan><tspan dy="-1.76">Ph</tspan></text>
<line x1="636.1" y1="504.7" x2="636.1" y2="499.3" stroke="#2222ff" stroke-width="0.75" />
<line x1="637.7" y1="504.7" x2="637.7" y2="499.3" stroke="#2222ff" stroke-width="0.75" />
<text x="636.9" y="498.5" font-family="Liberation Sans, Arial, sans-serif" font-size="8" fill="#2222ff" font-weight="bold" font-style="normal" text-anchor="middle" >O</text>
<text x="597.2" y="521.4" font-family="Liberation Sans, Arial, sans-serif" font-size="8.2" fill="#2222ff" font-weight="bold" font-style="normal" text-anchor="start" >15b</text>
<polyline points="632.1,565.3 629.2,555.5 636.9,549.7 645.5,555.5 642.1,564.9 632.1,565.3" fill="none" stroke="#2222ff" stroke-width="0.75" stroke-linejoin="round" />
<line x1="643.49" y1="556.05" x2="640.91" y2="563.19" stroke="#2222ff" stroke-width="0.75" />
<line x1="629.2" y1="555.5" x2="626.3" y2="546.9" stroke="#2222ff" stroke-width="0.75" />
<polyline points="629.2,555.5 619.6,555.5 615.8,564.5 624.4,570.2 632.1,565.3" fill="none" stroke="#2222ff" stroke-width="0.75" stroke-linejoin="round" />
<polyline points="632.1,565.3 629.3,573.6 636.9,579.3 645.5,573.6 642.1,564.9" fill="none" stroke="#2222ff" stroke-width="0.75" stroke-linejoin="round" />
<line x1="645.5" y1="555.5" x2="654.1" y2="552.1" stroke="#2222ff" stroke-width="0.75" />
<line x1="654.1" y1="552.1" x2="655.24" y2="545.48" stroke="#2222ff" stroke-width="0.75" />
<line x1="658.24" y1="541.88" x2="664.08" y2="541.92" stroke="#2222ff" stroke-width="0.75" />
<polyline points="664.08,541.92 668.69,548.84 662.16,554.98 654.1,552.1" fill="none" stroke="#2222ff" stroke-width="0.75" stroke-linejoin="round" />
<line x1="663.48" y1="543.72" x2="666.8" y2="548.7" stroke="#2222ff" stroke-width="0.75" />
<line x1="661.54" y1="553.16" x2="655.73" y2="551.09" stroke="#2222ff" stroke-width="0.75" />
<text x="655.44" y="545.48" font-family="Liberation Sans, Arial, sans-serif" font-size="8" fill="#2222ff" font-weight="bold" font-style="normal" text-anchor="middle" >S</text>
<line x1="636.1" y1="549.7" x2="636.1" y2="544.3" stroke="#2222ff" stroke-width="0.75" />
<line x1="637.7" y1="549.7" x2="637.7" y2="544.3" stroke="#2222ff" stroke-width="0.75" />
<text x="636.9" y="543.5" font-family="Liberation Sans, Arial, sans-serif" font-size="8" fill="#2222ff" font-weight="bold" font-style="normal" text-anchor="middle" >O</text>
<text x="597.2" y="564.5" font-family="Liberation Sans, Arial, sans-serif" font-size="8.2" fill="#2222ff" font-weight="bold" font-style="normal" text-anchor="start" >28b</text>
<polyline points="632.1,608.8 629.2,599 636.9,593.2 645.5,599 642.1,608.4 632.1,608.8" fill="none" stroke="#2222ff" stroke-width="0.75" stroke-linejoin="round" />
<line x1="643.49" y1="599.55" x2="640.91" y2="606.69" stroke="#2222ff" stroke-width="0.75" />
<line x1="629.2" y1="599" x2="626.3" y2="590.4" stroke="#2222ff" stroke-width="0.75" />
<polyline points="629.2,599 619.6,599 615.8,608 624.4,613.7 632.1,608.8" fill="none" stroke="#2222ff" stroke-width="0.75" stroke-linejoin="round" />
<polyline points="632.1,608.8 626.4,617.5 628.3,625.1 636.9,629.3 645.5,626.1 648.4,617.5 642.1,608.4" fill="none" stroke="#2222ff" stroke-width="0.75" stroke-linejoin="round" />
<line x1="645.5" y1="599" x2="650.9" y2="596.9" stroke="#2222ff" stroke-width="0.75" />
<text x="651.7" y="599.4" font-family="Liberation Sans, Arial, sans-serif" font-size="8" fill="#2222ff" font-weight="bold" font-style="normal" text-anchor="start" >Ph</text>
<line x1="636.1" y1="593.2" x2="636.1" y2="587.8" stroke="#2222ff" stroke-width="0.75" />
<line x1="637.7" y1="593.2" x2="637.7" y2="587.8" stroke="#2222ff" stroke-width="0.75" />
<text x="636.9" y="587" font-family="Liberation Sans, Arial, sans-serif" font-size="8" fill="#2222ff" font-weight="bold" font-style="normal" text-anchor="middle" >O</text>
<text x="597.2" y="609.5" font-family="Liberation Sans, Arial, sans-serif" font-size="8.2" fill="#2222ff" font-weight="bold" font-style="normal" text-anchor="start" >29b</text>
<polyline points="632.5,659.1 629.2,648.9 636.9,643.2 645.5,648.9 642.1,659.1 632.5,659.1" fill="none" stroke="#7b1346" stroke-width="0.75" stroke-linejoin="round" />
<line x1="631.21" y1="649.6" x2="633.72" y2="657.35" stroke="#7b1346" stroke-width="0.75" />
<line x1="629.2" y1="648.9" x2="620.5" y2="646.1" stroke="#7b1346" stroke-width="0.75" />
<text x="646.1" y="642.3" font-family="Liberation Sans, Arial, sans-serif" font-size="8" fill="#7b1346" font-weight="bold" font-style="normal" text-anchor="start" >Ph</text>
<line x1="645.5" y1="648.9" x2="646.6" y2="643.3" stroke="#7b1346" stroke-width="0.75" />
<polyline points="645.5,648.9 656.1,648.9 658,657.6 651.3,663.3 642.1,659.1" fill="none" stroke="#7b1346" stroke-width="0.75" stroke-linejoin="round" />
<polyline points="632.5,659.1 627.3,667.5 632.1,674.4 642.1,674.4 647.1,666.2 642.1,659.1" fill="none" stroke="#7b1346" stroke-width="0.75" stroke-linejoin="round" />
<line x1="636.1" y1="643.2" x2="636.1" y2="637.8" stroke="#7b1346" stroke-width="0.75" />
<line x1="637.7" y1="643.2" x2="637.7" y2="637.8" stroke="#7b1346" stroke-width="0.75" />
<text x="636.9" y="637" font-family="Liberation Sans, Arial, sans-serif" font-size="8" fill="#7b1346" font-weight="bold" font-style="normal" text-anchor="middle" >O</text>
<text x="597.2" y="659.1" font-family="Liberation Sans, Arial, sans-serif" font-size="8.2" fill="#7b1346" font-weight="bold" font-style="normal" text-anchor="start" >30b</text>
<polyline points="632.1,705.3 629.2,695.5 636.9,689.7 645.5,695.5 642.1,704.9 632.1,705.3" fill="none" stroke="#2222ff" stroke-width="0.75" stroke-linejoin="round" />
<line x1="643.49" y1="696.05" x2="640.91" y2="703.19" stroke="#2222ff" stroke-width="0.75" />
<line x1="629.2" y1="695.5" x2="626.3" y2="686.9" stroke="#2222ff" stroke-width="0.75" />
<polyline points="629.2,695.5 619.6,695.5 615.8,704.5 624.4,710.2 632.1,705.3" fill="none" stroke="#2222ff" stroke-width="0.75" stroke-linejoin="round" />
<polyline points="632.1,705.3 632.1,714.7 642.1,714.7 642.1,704.9" fill="none" stroke="#2222ff" stroke-width="0.75" stroke-linejoin="round" />
<line x1="645.5" y1="695.5" x2="650.9" y2="693.4" stroke="#2222ff" stroke-width="0.75" />
<text x="651.7" y="695.9" font-family="Liberation Sans, Arial, sans-serif" font-size="8" fill="#2222ff" font-weight="bold" font-style="normal" text-anchor="start" >Et</text>
<line x1="636.1" y1="689.7" x2="636.1" y2="684.3" stroke="#2222ff" stroke-width="0.75" />
<line x1="637.7" y1="689.7" x2="637.7" y2="684.3" stroke="#2222ff" stroke-width="0.75" />
<text x="636.9" y="683.5" font-family="Liberation Sans, Arial, sans-serif" font-size="8" fill="#2222ff" font-weight="bold" font-style="normal" text-anchor="middle" >O</text>
<text x="597.2" y="704.1" font-family="Liberation Sans, Arial, sans-serif" font-size="8.2" fill="#2222ff" font-weight="bold" font-style="normal" text-anchor="start" >31b</text>
<polyline points="632.5,744.3 629.2,734.1 636.9,728.4 645.5,734.1 642.1,744.3 632.5,744.3" fill="none" stroke="#7b1346" stroke-width="0.75" stroke-linejoin="round" />
<line x1="631.21" y1="734.8" x2="633.72" y2="742.55" stroke="#7b1346" stroke-width="0.75" />
<line x1="629.2" y1="734.1" x2="623.4" y2="731.6" stroke="#7b1346" stroke-width="0.75" />
<text x="623" y="732.9" font-family="Liberation Sans, Arial, sans-serif" font-size="8" fill="#7b1346" font-weight="bold" font-style="normal" text-anchor="end" ><tspan>MeO</tspan><tspan dy="1.76" font-size="5.92">2</tspan><tspan dy="-1.76">C</tspan></text>
<line x1="645.5" y1="734.1" x2="648.4" y2="724.9" stroke="#7b1346" stroke-width="0.75" />
<polyline points="645.5,734.1 657,732.6 662.2,740.2 657.9,747.9 648.4,749.8 642.1,744.3" fill="none" stroke="#7b1346" stroke-width="0.75" stroke-linejoin="round" />
<polyline points="632.5,744.3 629.3,753.5 636.9,759.3 644.6,753.5 642.1,744.3" fill="none" stroke="#7b1346" stroke-width="0.75" stroke-linejoin="round" />
<line x1="636.1" y1="728.4" x2="636.1" y2="723" stroke="#7b1346" stroke-width="0.75" />
<line x1="637.7" y1="728.4" x2="637.7" y2="723" stroke="#7b1346" stroke-width="0.75" />
<text x="636.9" y="722.2" font-family="Liberation Sans, Arial, sans-serif" font-size="8" fill="#7b1346" font-weight="bold" font-style="normal" text-anchor="middle" >O</text>
<text x="597.2" y="744.7" font-family="Liberation Sans, Arial, sans-serif" font-size="8.2" fill="#7b1346" font-weight="bold" font-style="normal" text-anchor="start" >32b</text>
</svg>
</body></html>
